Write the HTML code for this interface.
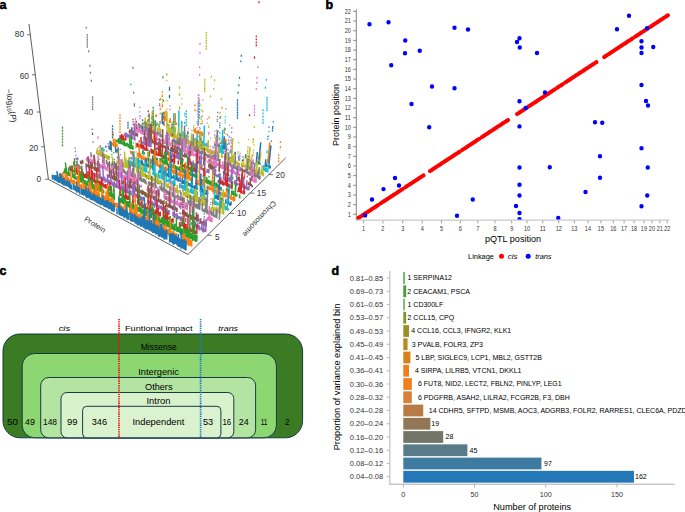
<!DOCTYPE html>
<html><head><meta charset="utf-8"><style>
html,body{margin:0;padding:0;background:#fff;width:685px;height:512px;overflow:hidden}
svg{display:block;font-family:"Liberation Sans",sans-serif}
</style></head><body>
<svg width="685" height="512" viewBox="0 0 685 512">
<text x="-0.60" y="8.80" font-size="12.5" fill="#000" font-weight="bold" stroke="#000" stroke-width="0.55">a</text>
<text x="325.60" y="8.80" font-size="12.5" fill="#000" font-weight="bold" stroke="#000" stroke-width="0.55">b</text>
<text x="-0.60" y="274.80" font-size="12.5" fill="#000" font-weight="bold" stroke="#000" stroke-width="0.55">c</text>
<text x="331.40" y="274.80" font-size="12.5" fill="#000" font-weight="bold" stroke="#000" stroke-width="0.55">d</text>
<path d="M155.9 116.6L155.8 114.6M156.2 117.1L156.1 114.4M162.5 119.8L162.5 116.3M163.2 119.5L163.2 117.2M163.9 120.2L163.9 116.4M164.2 120.3L164.2 111.4M164.8 120.6L164.8 116.6M165.2 120.9L165.2 118.7M166.1 120.9L166.0 110.4M166.6 120.8L166.6 118.9M169.5 123.1L169.5 120.1M170.2 123.1L170.2 117.9M175.2 125.0L175.3 113.3M175.1 125.3L175.1 123.1M176.5 125.0L176.5 122.4M194.3 132.4L194.4 128.2M195.2 132.8L195.2 129.8M195.2 133.1L195.4 128.3M195.4 133.5L195.5 130.7M196.6 133.3L196.7 131.1M196.6 133.2L196.7 131.1M197.8 133.7L197.9 130.6M197.2 134.4L197.3 130.5M197.9 134.2L198.0 131.7M198.9 134.2L199.0 132.0M199.7 134.7L199.7 132.0M199.9 134.5L200.0 130.9M200.2 135.1L200.3 131.8M200.8 135.0L200.9 131.5M201.4 135.6L201.5 131.6M201.2 135.6L201.3 132.8M201.8 136.1L201.9 132.7M202.4 136.2L202.5 132.2M216.1 141.5L216.2 137.8M216.6 141.8L216.8 138.5M220.6 144.0L220.7 142.2M221.1 144.1L221.3 140.7M222.2 143.6L222.4 139.7M222.5 144.0L222.6 141.7M222.7 144.7L223.0 138.8M223.6 144.7L223.8 140.8M224.4 145.1L224.5 142.8M224.8 145.2L225.2 138.5M225.5 145.5L225.7 142.5M225.7 145.9L226.1 139.6M252.3 156.8L252.5 154.3M258.4 159.3L258.7 156.8M259.0 159.0L259.5 152.9M259.8 159.0L260.0 157.0M267.4 162.6L267.7 159.3M267.8 162.7L269.8 142.3M268.1 163.0L269.0 154.0" stroke="#ff7f0e" stroke-width="1.5" fill="none"/>
<path d="M162.4 106.5h.01M162.3 92.0h.01M162.4 99.7h.01M162.4 102.6h.01M162.3 95.0h.01M162.5 113.4h.01M162.3 96.7h.01M162.4 105.0h.01M198.0 124.0h.01M198.5 108.9h.01M198.6 104.5h.01M198.3 114.8h.01M202.5 115.8h.01M202.6 111.5h.01M202.3 121.1h.01M203.0 100.2h.01M202.2 123.3h.01M224.5 128.3h.01M224.2 132.7h.01M224.3 130.8h.01M224.4 129.4h.01M224.3 131.0h.01M225.0 133.7h.01M224.7 139.1h.01M225.3 128.8h.01" stroke="#ff7f0e" stroke-width="1.3" stroke-linecap="square" fill="none"/>
<path d="M152.2 119.7L152.1 115.6M152.6 119.7L152.5 116.4M152.7 120.4L152.7 118.0M162.3 123.8L162.2 112.8M162.8 124.3L162.8 120.8M163.6 125.3L163.6 121.6M167.6 126.2L167.6 123.6M187.8 134.5L187.9 131.3M214.9 146.2L215.0 143.4M216.6 146.4L216.8 140.3M216.6 146.3L216.7 144.4M217.2 146.8L217.3 144.6M218.6 146.5L218.7 143.7M218.7 147.5L218.8 145.4M219.1 147.6L219.3 144.0M219.2 148.2L219.4 144.5M222.3 148.8L222.5 145.0M222.5 149.5L222.7 146.3M223.1 149.3L223.3 145.4M223.5 149.6L224.2 136.3M224.9 149.9L225.3 142.1M225.4 149.7L225.6 146.3M226.4 150.0L226.6 146.8M230.3 152.5L230.4 150.4M231.4 152.1L231.6 150.2M231.5 152.8L231.7 150.6M235.0 154.3L235.2 151.7M235.2 154.9L235.3 152.2M245.5 158.3L245.8 154.2M256.3 163.1L257.3 152.0M256.3 163.4L256.6 160.5M257.2 163.7L257.5 160.8M258.4 163.6L258.6 161.2M258.8 164.0L260.7 142.2M259.2 164.8L259.4 161.9M259.8 164.6L260.0 162.7M265.4 166.2L265.8 161.7M265.1 166.9L265.8 159.3M265.9 167.3L266.2 164.1M266.4 167.4L266.8 163.3M268.0 167.1L268.3 165.0M268.7 167.3L270.9 145.4M268.9 168.0L269.2 165.0M269.0 168.6L269.4 164.9M270.1 168.4L270.3 165.8" stroke="#1f77b4" stroke-width="1.5" fill="none"/>
<path d="M217.2 133.7h.01M217.2 131.8h.01M217.2 132.9h.01M217.0 137.7h.01M217.1 135.6h.01M217.2 131.9h.01M217.1 135.0h.01M217.0 136.4h.01M219.8 125.5h.01M219.9 123.2h.01M220.1 118.2h.01M267.8 139.1h.01M268.9 127.2h.01M268.0 136.5h.01M272.5 130.3h.01M273.3 121.9h.01M272.8 126.7h.01M272.7 127.8h.01M272.6 128.6h.01M272.4 130.9h.01M271.4 141.2h.01" stroke="#1f77b4" stroke-width="1.3" stroke-linecap="square" fill="none"/>
<path d="M147.9 122.4L147.9 119.8M151.8 124.6L151.7 121.0M152.2 124.8L152.1 120.9M153.5 124.2L153.4 117.7M154.1 124.9L154.1 120.8M153.8 125.2L153.8 122.4M155.0 125.2L155.0 123.1M154.9 125.6L154.8 121.9M155.7 125.5L155.6 121.4M156.3 125.5L156.2 123.6M156.4 126.4L156.4 123.3M159.3 126.9L159.3 123.3M170.9 131.7L171.0 129.0M171.1 132.5L171.1 130.6M172.1 132.4L172.1 130.5M172.9 132.4L172.9 129.2M173.8 133.9L173.8 113.3M174.3 133.7L174.3 131.2M175.2 133.0L175.2 127.2M178.3 135.4L178.3 132.6M178.7 135.6L178.9 110.5M179.4 136.1L179.4 132.4M180.3 136.3L180.4 133.3M180.6 136.4L180.7 133.5M181.7 136.0L181.8 131.7M181.5 136.7L181.7 120.7M182.9 136.6L183.0 133.4M183.6 137.1L183.7 133.7M183.2 137.9L183.2 135.8M184.6 137.3L184.7 132.7M184.5 138.1L184.5 135.1M185.0 138.3L185.1 135.0M186.0 137.9L186.0 134.7M186.7 138.0L186.8 135.2M187.1 138.4L187.2 135.0M187.5 138.5L187.6 135.2M187.3 139.5L187.4 137.1M193.8 140.8L193.8 138.7M193.6 141.5L193.7 139.2M194.0 141.8L194.1 138.6M195.0 141.9L195.1 137.7M196.9 142.8L197.2 134.5M197.6 143.0L197.6 140.6M198.6 143.2L198.7 140.9M198.6 143.5L198.7 140.7M199.6 143.8L199.9 134.1M199.5 144.6L199.6 141.3M200.0 144.7L200.1 140.8M200.4 145.2L200.4 142.7M201.2 144.7L201.3 141.5M202.4 145.0L202.5 140.8M202.4 145.1L202.6 141.7M203.1 145.2L203.2 141.0M203.8 144.9L203.9 141.1M203.7 146.2L204.4 125.5M204.8 146.1L204.9 143.4M205.5 146.4L205.6 143.9M206.3 146.0L206.5 142.7M206.5 146.8L206.6 142.5M207.1 146.5L207.3 143.2M207.9 146.6L208.0 143.6M219.0 151.6L219.2 147.9M218.8 152.6L218.9 150.3M219.2 152.5L219.4 146.8M220.4 152.2L220.5 149.2M220.1 153.1L220.5 145.5M221.6 152.7L222.8 129.6M222.5 152.8L222.6 149.7M222.1 154.1L222.3 150.6M223.4 153.8L223.6 150.6M223.4 154.0L223.5 151.9M225.8 154.8L226.3 145.4M226.5 155.2L226.7 151.4M228.3 156.4L228.5 152.4M238.6 159.7L238.8 155.6M238.5 160.7L238.8 157.2M239.5 160.7L239.7 157.2M242.4 161.6L242.6 159.5M250.6 165.3L250.8 162.7M251.5 165.5L251.8 161.3M252.3 165.2L252.7 161.0M263.4 169.8L263.8 165.3M263.6 170.6L263.9 168.0M264.0 171.0L264.4 166.7M265.2 170.5L265.4 168.4M265.5 171.2L265.8 168.1M265.8 172.2L266.3 167.8M267.2 171.9L267.4 169.7M267.7 172.5L268.4 164.7" stroke="#17becf" stroke-width="1.5" fill="none"/>
<path d="M184.8 115.6h.01M184.7 122.4h.01M184.6 129.3h.01M184.8 113.5h.01M184.6 131.5h.01M184.7 123.4h.01M219.7 137.9h.01M219.6 139.5h.01M220.0 133.0h.01M220.5 117.8h.01M219.2 144.7h.01M220.6 116.6h.01M219.3 143.2h.01M220.0 127.7h.01M224.0 142.5h.01M225.2 120.2h.01M224.8 128.5h.01M225.4 116.8h.01M225.1 122.6h.01M223.9 144.6h.01M224.7 130.5h.01M225.8 108.8h.01M229.4 137.1h.01M229.1 142.5h.01M229.0 144.2h.01M269.0 131.6h.01M268.5 136.4h.01M267.1 150.8h.01M267.0 152.5h.01" stroke="#17becf" stroke-width="1.3" stroke-linecap="square" fill="none"/>
<path d="M142.8 125.4L142.7 123.2M144.0 124.9L143.9 122.7M143.8 125.4L143.7 122.3M144.7 125.0L144.6 120.9M144.8 125.8L144.7 122.1M145.2 125.6L145.1 121.6M145.5 126.3L145.3 117.6M145.7 126.6L145.7 123.8M146.4 126.2L146.4 124.4M147.3 126.1L147.2 123.1M147.4 127.1L147.3 123.0M147.6 126.8L147.5 121.1M147.8 127.3L147.8 124.9M148.1 127.3L148.0 123.9M148.9 127.8L148.8 125.1M149.5 127.9L149.2 113.7M150.9 127.7L150.9 124.4M151.3 128.4L151.2 124.7M151.2 128.4L151.2 125.8M152.4 128.7L152.4 125.3M152.5 129.1L152.3 118.1M153.0 129.0L152.9 125.8M153.4 129.6L153.4 127.5M154.2 129.5L154.2 127.6M154.7 130.1L154.7 127.1M155.1 129.6L155.0 122.1M157.6 131.5L157.6 127.5M158.8 131.0L158.8 124.4M158.6 131.4L158.6 128.8M159.7 131.5L159.7 127.6M159.7 132.1L159.7 129.6M160.1 132.0L160.1 129.6M160.9 131.8L160.9 129.1M160.9 133.0L160.9 129.8M167.2 135.2L167.2 132.0M167.0 135.4L166.9 111.6M168.5 135.4L168.5 130.1M168.7 135.5L168.7 123.9M168.8 135.9L168.8 133.2M168.8 136.0L168.8 126.3M169.3 136.5L169.3 134.0M169.5 136.5L169.5 134.6M170.4 136.2L170.4 128.0M171.2 136.1L171.2 126.9M171.4 137.1L171.4 127.8M171.6 137.3L171.6 133.0M172.4 137.6L172.4 121.2M173.1 136.9L173.1 134.8M173.5 137.2L173.5 134.5M173.5 138.2L173.5 134.4M174.8 137.9L174.8 126.6M174.9 138.3L175.0 131.0M175.6 138.7L175.6 136.1M176.1 138.8L176.1 134.6M176.8 139.0L176.8 136.9M177.7 139.2L177.8 133.0M178.3 139.3L178.4 126.7M178.1 140.5L178.1 137.3M181.3 140.2L181.3 137.4M181.3 141.0L181.4 137.3M181.8 141.9L181.8 138.3M182.4 141.8L182.5 138.4M183.3 141.9L183.5 131.3M183.9 142.5L184.0 135.0M184.7 142.3L184.8 133.0M184.5 142.6L184.6 138.9M185.8 142.2L185.9 138.4M185.9 143.2L185.9 140.9M187.2 143.1L187.3 139.3M187.2 143.7L187.2 141.3M187.6 144.1L187.7 138.2M188.1 144.7L188.1 142.3M188.9 144.4L189.0 140.9M189.9 144.5L190.0 141.4M190.0 144.9L190.1 140.6M191.2 144.7L191.4 134.6M191.5 145.1L191.5 143.2M191.5 146.2L191.7 137.4M193.0 145.4L193.1 142.0M193.2 146.0L193.2 143.5M193.3 146.8L193.4 141.4M194.7 146.2L194.9 138.5M195.2 146.6L195.3 144.6M195.4 147.0L195.4 145.1M195.7 147.5L195.9 140.3M196.8 147.6L196.9 143.3M196.8 148.2L196.9 145.0M197.1 147.9L197.2 144.1M198.1 148.0L198.2 145.1M199.0 148.1L199.1 144.3M198.7 149.0L199.0 139.7M200.0 148.1L200.2 138.6M199.7 149.2L199.8 145.5M200.3 149.5L200.4 147.3M201.0 149.7L201.4 136.5M202.2 149.6L202.3 145.4M202.0 150.1L202.2 146.8M202.4 150.1L202.6 144.0M203.2 149.9L203.4 146.7M203.7 149.9L203.8 145.5M204.5 151.4L204.6 147.2M205.2 151.1L205.4 147.1M205.8 151.0L205.9 149.0M206.7 151.3L206.8 148.3M207.0 151.7L207.2 147.3M207.8 151.8L208.3 139.9M207.8 152.7L207.8 150.8M208.0 153.1L208.1 149.9M208.5 153.3L208.6 150.4M209.3 152.8L209.5 149.6M210.7 152.9L210.8 149.2M210.5 153.8L210.6 151.2M211.0 154.1L211.1 150.5M211.5 154.7L211.7 151.1M212.5 154.8L212.6 150.7M213.3 154.5L213.4 150.9M213.9 154.9L214.0 152.4M214.8 154.6L215.0 150.2M214.5 155.9L214.6 153.6M215.6 155.8L215.9 148.6M215.9 156.3L216.0 153.9M217.2 155.4L217.4 151.5M217.5 156.0L217.6 153.2M218.0 156.4L218.2 152.3M218.3 156.7L218.4 154.7M218.5 157.0L219.0 146.5M221.6 157.9L221.8 153.8M222.4 158.0L222.5 155.4M225.5 160.1L225.7 156.8M226.4 159.4L226.6 155.3M226.5 160.1L226.7 157.6M227.4 160.8L227.5 158.5M227.4 161.2L227.5 158.5M228.9 160.7L229.1 156.6M228.9 161.4L229.2 156.9M230.1 161.3L230.4 156.6M229.9 161.8L230.2 157.3M230.7 162.1L231.0 158.5M231.4 161.6L232.8 138.3M231.3 163.1L231.4 160.6M232.8 162.6L233.3 155.3M233.2 163.0L233.4 160.5M233.4 163.9L234.1 153.6M234.7 163.4L234.9 160.8M235.1 163.7L235.4 160.0M235.5 164.2L235.7 160.5M236.5 164.4L236.7 161.5M237.4 164.4L237.5 162.4M237.2 165.4L237.4 161.5M238.3 165.1L238.5 162.2M238.4 166.2L238.6 163.6M239.0 166.2L239.3 162.9M241.4 166.3L241.6 162.2M242.5 166.8L242.7 163.9M243.2 166.9L243.8 158.2M243.9 167.4L244.1 164.3M244.7 167.7L244.9 164.9M246.0 167.5L246.9 156.0M246.3 168.6L246.8 162.1M246.7 169.1L247.0 164.9M247.7 168.9L247.9 166.1M248.3 168.8L250.0 147.0M248.5 169.4L249.3 159.1M249.1 170.1L249.5 165.0M250.3 169.7L250.6 166.0M250.8 169.8L251.1 166.9M251.5 169.9L251.8 165.5M251.8 171.0L252.1 167.5M251.8 171.7L252.0 168.7M252.7 171.8L253.0 168.4M253.3 171.4L253.6 168.5M254.0 172.2L254.8 162.9M254.3 172.4L254.7 168.4M255.3 172.6L255.6 169.4M255.6 173.0L255.9 169.1M256.3 172.7L257.3 161.0M256.7 173.6L257.0 170.1M258.0 173.3L258.3 169.6M258.0 173.4L258.2 170.8M259.1 173.2L259.3 171.1M258.9 174.5L259.6 167.3M259.6 174.3L259.8 172.1M261.0 174.4L261.5 169.6M261.4 174.8L262.3 165.3M261.8 175.0L262.1 172.3M262.3 175.3L262.7 170.2M262.8 176.0L263.2 171.7M263.1 176.4L263.4 173.2" stroke="#bcbd22" stroke-width="1.5" fill="none"/>
<path d="M152.1 112.5h.01M152.2 114.1h.01M152.2 118.1h.01M152.2 118.6h.01M152.3 122.7h.01M152.2 116.5h.01M152.1 112.3h.01M152.1 112.2h.01M153.2 118.0h.01M153.1 113.3h.01M153.3 123.0h.01M153.1 112.1h.01M153.1 111.8h.01M153.2 115.1h.01M157.5 123.2h.01M157.5 124.3h.01M157.6 124.8h.01M157.6 124.6h.01M157.5 122.8h.01M157.5 124.0h.01M157.6 124.9h.01M157.6 124.8h.01M160.7 109.6h.01M160.8 121.1h.01M160.7 107.9h.01M160.8 112.8h.01M160.6 98.4h.01M160.6 99.7h.01M166.8 75.1h.01M166.9 109.2h.01M166.8 73.8h.01M166.8 80.4h.01M166.9 100.5h.01M181.8 104.2h.01M181.4 133.8h.01M181.8 98.6h.01M181.4 132.9h.01M181.5 129.1h.01M187.3 134.9h.01M187.3 136.9h.01M187.3 136.8h.01M191.5 140.7h.01M191.6 136.0h.01M191.8 130.4h.01M191.7 133.7h.01M191.6 139.0h.01M193.7 130.3h.01M193.7 127.7h.01M193.6 135.3h.01M193.5 138.1h.01M193.8 125.7h.01M201.0 105.1h.01M200.4 124.0h.01M200.3 128.6h.01M200.1 134.8h.01M200.2 132.1h.01M200.1 133.5h.01M201.2 119.6h.01M200.7 136.3h.01M201.3 117.6h.01M201.5 110.0h.01M201.3 116.9h.01M200.8 134.8h.01M201.1 123.4h.01M201.2 119.5h.01M208.1 143.9h.01M208.5 134.6h.01M208.0 146.0h.01M208.0 147.0h.01M209.1 117.0h.01M209.1 118.0h.01M208.7 127.4h.01M208.8 125.6h.01M215.3 137.3h.01M214.9 147.4h.01M215.3 138.3h.01M226.8 154.2h.01M226.9 154.1h.01M226.8 154.3h.01M226.9 152.7h.01M226.9 153.0h.01M238.1 151.9h.01M238.7 142.7h.01M238.0 153.5h.01M248.6 139.6h.01M247.6 151.7h.01M247.0 159.4h.01M247.5 153.5h.01M247.3 156.0h.01M247.8 149.9h.01M248.0 147.2h.01M247.9 147.4h.01M251.1 160.2h.01M251.2 158.1h.01M251.1 159.5h.01M250.8 163.3h.01M250.8 163.5h.01M251.3 157.6h.01M251.0 161.1h.01M251.2 158.2h.01M254.3 127.5h.01M251.5 161.4h.01M253.4 139.0h.01M254.4 127.0h.01M253.3 140.5h.01M253.3 139.9h.01M253.1 142.5h.01M253.3 152.9h.01M253.5 150.5h.01M254.0 144.8h.01M257.8 161.0h.01M257.4 165.6h.01M257.5 164.2h.01M260.6 156.6h.01M260.6 155.8h.01M261.0 152.2h.01M259.9 164.2h.01M260.3 160.0h.01M260.5 157.9h.01M260.7 155.6h.01M260.8 154.1h.01" stroke="#bcbd22" stroke-width="1.3" stroke-linecap="square" fill="none"/>
<path d="M138.7 128.1L138.5 124.2M138.8 128.1L138.6 123.0M139.4 128.5L139.2 123.7M139.8 128.8L139.7 125.3M141.0 128.3L140.9 124.4M141.7 128.3L141.6 126.5M141.7 129.1L141.6 125.3M142.9 128.7L142.8 125.8M142.6 129.6L142.5 125.9M143.4 129.8L143.4 128.0M144.1 129.8L144.0 127.4M144.8 130.0L144.7 126.0M144.7 130.9L144.6 127.5M145.1 130.9L145.0 127.3M146.1 130.6L145.9 123.6M146.2 131.4L145.9 121.7M147.7 131.2L147.6 127.1M148.2 131.6L148.2 129.5M148.8 131.8L148.7 128.6M148.8 131.8L148.7 128.6M149.7 132.2L149.5 124.5M149.8 133.0L149.7 130.1M150.2 132.6L150.2 128.8M151.0 132.9L151.0 129.2M151.2 133.3L151.0 123.4M152.0 134.0L151.9 129.9M153.1 133.6L153.0 129.7M153.8 133.9L153.8 130.8M154.0 134.1L153.9 130.0M154.7 134.3L154.7 132.4M154.8 135.3L154.8 132.2M155.5 135.0L155.3 120.3M156.5 135.0L156.5 132.9M156.9 135.3L156.8 131.2M157.7 135.3L157.7 132.4M158.2 135.4L158.2 131.9M160.0 136.4L159.9 132.0M160.7 136.9L160.7 133.9M160.5 137.2L160.5 133.5M161.7 137.6L161.7 134.5M166.4 139.5L166.4 137.1M167.2 139.2L167.2 136.8M167.5 139.3L167.5 135.3M167.7 139.7L167.7 133.2M168.6 140.3L168.6 137.9M168.6 140.5L168.6 138.6M172.5 142.9L172.5 139.2M174.0 141.9L174.0 138.5M174.0 142.5L174.0 138.4M174.9 143.0L174.9 140.0M175.1 144.1L175.1 140.7M175.6 143.6L175.6 139.9M176.1 143.9L176.1 140.3M177.3 143.7L177.3 139.8M177.3 144.2L177.4 139.9M178.2 143.8L178.2 140.2M178.1 145.3L178.2 141.5M179.7 144.7L179.7 136.9M179.7 145.0L179.7 141.1M180.2 145.4L180.3 133.7M180.1 145.8L180.2 139.2M181.4 145.7L181.4 141.3M181.9 146.2L181.9 143.7M181.8 147.0L181.8 144.8M182.4 146.8L182.4 144.2M183.7 146.6L183.7 144.3M184.3 146.9L184.6 125.6M185.9 148.0L186.0 144.5M185.9 148.4L186.0 138.4M188.2 149.0L188.3 145.2M189.2 148.8L189.2 145.9M189.1 149.4L189.1 147.0M189.5 149.6L189.6 145.9M190.7 149.0L190.7 145.2M190.5 150.1L190.6 146.4M191.2 150.7L191.4 141.2M192.1 150.6L192.2 146.6M192.9 150.1L193.3 133.9M193.3 150.9L193.4 148.3M194.6 151.0L194.7 146.6M195.1 151.2L195.2 146.8M195.3 151.9L195.4 148.0M196.5 152.2L196.6 149.5M196.6 152.6L196.9 138.8M197.7 152.1L197.9 146.2M198.1 153.3L198.2 148.9M199.1 153.0L199.2 149.4M198.8 153.8L198.9 150.4M199.4 154.3L199.6 150.0M200.3 154.0L200.4 151.3M201.5 154.1L201.6 151.6M201.6 154.5L201.7 150.4M202.4 154.3L202.5 150.2M205.4 156.5L205.6 152.2M206.2 156.4L206.3 153.9M207.7 157.7L207.9 154.0M208.8 157.5L209.0 154.4M208.9 158.1L209.0 155.9M210.0 157.6L210.1 155.0M210.3 158.0L210.5 154.5M210.9 158.6L211.0 155.3M211.6 159.6L211.8 155.9M212.9 158.9L213.1 155.1M213.9 158.9L214.1 154.8M214.1 159.5L214.2 157.1M214.1 160.1L214.4 154.5M215.4 160.0L215.6 156.5M215.5 160.7L216.4 140.1M216.4 160.4L216.5 157.4M216.9 160.9L217.1 158.1M217.5 160.7L217.6 158.7M218.2 161.3L218.5 155.5M224.3 164.5L224.4 161.9M225.0 164.1L225.3 157.4M225.2 164.9L225.4 161.1M225.8 165.0L226.0 162.8M226.9 165.2L227.1 161.6M227.3 165.0L227.5 161.3M228.0 165.7L228.7 153.1M227.9 165.8L228.1 162.1M228.7 165.8L228.8 163.7M229.5 165.7L229.8 161.5M230.2 165.8L230.4 162.7M230.9 166.8L231.1 163.6M231.1 167.2L231.2 164.9M232.1 166.9L232.2 164.6M232.4 167.4L232.6 165.3M232.9 167.7L233.0 165.0M233.1 168.5L233.4 164.1M233.9 168.4L234.1 166.2M234.7 168.7L235.5 155.4M235.2 169.0L235.3 166.6M236.2 169.5L236.4 167.5M236.8 170.3L237.1 166.9M237.7 169.5L237.9 165.8M238.8 169.6L239.0 167.1M238.7 170.4L239.0 166.1M239.7 171.2L239.8 169.2M239.9 171.4L240.1 168.5M240.5 171.2L240.8 167.1M241.7 171.3L242.0 167.9M242.4 171.2L242.6 168.7M242.6 172.6L242.8 169.2M242.9 172.4L243.2 169.1M243.7 172.7L243.9 170.2M245.0 172.5L245.3 168.8M246.1 172.6L246.4 168.3M246.3 173.4L246.6 170.0M246.8 173.3L248.0 158.4M247.2 174.0L247.8 166.6M247.6 173.8L247.9 171.1M247.8 174.4L247.9 172.4M249.2 174.5L249.4 172.5M249.0 175.6L249.4 171.5M250.5 175.4L251.6 161.9M251.2 175.5L251.4 173.4M251.8 175.3L252.1 172.3M252.6 175.5L252.8 173.5M252.3 176.6L252.5 173.8M253.8 176.6L254.9 163.1M253.9 176.4L254.2 173.3M254.6 177.2L254.9 172.8M255.3 177.6L255.7 173.3M256.3 177.4L256.6 174.0M256.8 177.5L257.1 174.4M257.4 178.2L258.0 171.4M258.3 178.5L259.3 167.1M258.7 179.1L259.1 175.4M259.4 179.7L259.8 175.1M259.8 179.8L260.2 175.6" stroke="#7f7f7f" stroke-width="1.5" fill="none"/>
<path d="M144.9 122.3h.01M144.9 122.3h.01M145.0 123.4h.01M145.0 124.1h.01M149.5 121.4h.01M149.4 115.2h.01M149.5 118.7h.01M149.6 124.5h.01M149.4 114.3h.01M149.4 115.9h.01M149.4 115.2h.01M159.6 99.8h.01M159.8 121.6h.01M159.6 103.9h.01M159.7 105.5h.01M198.5 122.6h.01M198.5 122.5h.01M198.3 131.2h.01M198.3 132.0h.01M198.1 136.3h.01M198.7 117.2h.01M198.5 121.5h.01M201.6 149.0h.01M201.7 148.2h.01M201.9 141.8h.01M201.8 145.2h.01M201.6 148.9h.01M201.7 147.8h.01M217.4 119.5h.01M217.5 116.7h.01M216.9 130.3h.01M216.6 136.3h.01M217.3 121.4h.01M216.6 136.4h.01M217.7 112.5h.01M217.3 140.0h.01M217.2 141.6h.01M217.7 131.4h.01M217.4 152.2h.01M218.3 131.4h.01M218.1 136.1h.01M217.9 140.8h.01M218.0 138.7h.01M218.3 144.3h.01M217.7 155.2h.01M218.2 144.6h.01M218.2 144.9h.01M217.7 156.2h.01M217.8 154.2h.01M224.6 157.4h.01M224.6 158.9h.01M224.8 155.6h.01M224.6 157.6h.01M224.8 155.3h.01M224.6 157.6h.01M231.1 140.1h.01M231.0 140.8h.01M231.8 128.0h.01M231.2 137.9h.01M230.3 152.6h.01M230.0 157.6h.01M231.5 132.4h.01M249.6 169.5h.01M249.8 167.7h.01M250.3 160.9h.01" stroke="#7f7f7f" stroke-width="1.3" stroke-linecap="square" fill="none"/>
<path d="M134.9 130.6L134.8 127.7M135.3 131.2L135.1 124.4M135.9 131.4L135.7 127.1M137.0 131.8L136.9 128.1M137.3 131.6L137.2 128.0M137.6 131.7L137.5 129.6M138.3 131.9L138.1 125.3M138.2 132.8L138.1 129.6M139.5 132.0L139.4 128.8M140.0 132.6L139.9 130.3M140.4 132.5L140.3 129.3M141.3 133.1L141.2 130.2M141.0 134.0L140.9 131.7M141.7 134.1L141.6 129.1M142.1 134.4L142.0 130.8M143.1 134.0L143.0 129.9M143.0 134.1L142.9 132.0M143.2 135.0L143.2 132.4M144.4 134.3L144.2 128.5M145.4 134.9L145.4 131.8M145.9 135.1L145.8 130.9M146.5 135.7L146.4 133.0M147.0 135.8L147.0 132.8M147.8 135.8L147.6 128.6M148.1 136.2L148.0 132.4M148.0 136.4L147.9 134.3M148.9 136.3L148.8 132.5M149.1 137.6L149.0 133.7M151.4 137.5L151.3 135.7M151.2 138.1L151.1 133.1M153.6 138.9L153.6 135.9M154.3 138.3L154.3 134.0M154.7 138.6L154.7 135.9M154.5 139.6L154.5 136.7M155.8 139.3L155.7 130.7M155.4 139.8L155.4 136.8M156.9 139.6L156.9 136.4M157.0 139.8L156.9 134.2M157.2 141.0L157.1 138.5M159.1 141.9L159.0 137.9M160.3 141.5L160.3 139.1M160.4 142.1L160.3 139.5M161.1 142.5L161.1 138.8M162.4 141.8L162.4 139.5M162.8 142.0L162.8 139.2M162.9 142.9L162.9 141.0M163.5 142.5L163.5 139.0M163.9 143.5L163.8 139.2M164.4 143.9L164.3 141.5M164.6 143.9L164.6 141.6M165.7 144.4L165.7 134.7M166.0 144.2L165.9 140.4M167.0 144.1L166.9 141.4M167.2 144.1L167.2 139.7M167.1 144.9L167.1 141.5M167.8 144.6L167.8 141.0M168.1 145.2L168.1 142.1M169.2 144.6L169.2 142.4M169.3 145.2L169.3 135.0M169.9 145.4L169.9 142.3M170.0 146.6L170.0 142.2M170.9 146.0L170.9 142.4M174.6 147.9L174.6 145.5M175.1 148.1L175.1 145.9M176.0 148.4L176.0 146.2M176.2 148.2L176.2 144.0M176.6 148.4L176.6 144.2M177.0 148.6L177.0 146.3M177.6 149.2L177.6 146.2M177.8 149.4L177.8 146.9M179.2 149.1L179.2 145.3M179.5 150.4L179.5 147.2M180.4 150.5L180.4 148.5M181.4 150.1L181.4 147.6M181.7 150.4L181.8 141.5M181.7 151.4L181.8 142.7M181.9 151.2L181.9 148.2M183.3 151.0L183.3 147.7M183.3 152.1L183.3 149.1M183.5 152.3L183.6 140.5M184.2 152.5L184.4 138.5M185.0 152.8L185.0 150.5M185.8 152.4L185.9 148.5M187.1 153.5L187.2 150.6M187.6 153.8L187.7 147.5M188.0 153.9L188.1 150.9M188.7 154.4L188.7 152.2M191.7 154.8L191.9 144.8M192.1 155.7L192.3 147.0M193.0 156.1L193.1 148.5M193.4 156.2L193.4 154.0M194.8 156.4L194.8 154.0M195.1 155.9L195.2 152.6M195.3 156.5L195.4 153.5M196.2 156.8L196.3 152.3M196.4 157.1L196.5 154.0M197.3 157.1L197.4 152.3M197.3 157.8L197.4 154.4M198.2 157.8L198.3 155.3M198.8 157.4L198.9 153.7M198.8 157.9L198.9 153.6M199.0 158.6L199.1 154.6M200.2 158.3L200.3 155.6M200.8 158.9L200.9 156.9M200.3 159.8L200.4 156.5M201.9 159.0L202.0 156.6M202.1 159.4L202.2 157.1M204.3 159.8L204.4 156.3M204.9 160.7L205.0 157.4M204.7 160.9L204.8 156.9M205.6 161.2L205.7 158.2M205.7 161.1L205.8 157.0M207.8 162.8L207.9 160.7M208.6 162.8L208.8 159.0M209.9 162.6L210.0 158.6M209.5 163.6L209.7 160.0M210.0 163.6L210.3 157.7M210.5 163.6L210.6 160.3M211.1 163.6L211.2 159.3M211.3 164.1L211.6 157.3M212.3 164.3L212.5 161.1M213.4 164.2L213.5 161.2M213.4 164.2L213.5 161.9M213.4 165.2L213.8 157.0M214.6 164.8L214.8 160.7M215.8 164.9L215.9 162.2M216.1 165.7L217.3 140.3M217.0 165.3L217.1 162.7M216.9 166.4L217.0 162.8M218.4 165.9L218.6 162.2M218.9 166.4L219.1 161.3M219.3 166.8L219.5 163.3M219.3 167.7L219.5 163.9M220.6 167.0L220.8 164.5M220.6 167.9L220.8 164.6M221.4 168.2L221.6 165.0M222.4 167.9L222.5 164.4M222.6 168.0L222.8 164.3M222.2 169.3L222.7 161.4M223.4 169.3L223.6 164.8M224.6 168.5L224.9 164.4M224.3 169.7L224.6 164.6M224.8 169.7L225.9 148.6M225.5 170.2L225.6 167.5M226.2 169.8L226.5 165.3M226.3 170.4L226.5 167.3M227.0 171.2L227.3 166.8M228.4 170.9L228.6 168.3M228.9 171.6L229.1 169.2M229.6 171.7L229.7 169.5M230.6 171.9L230.7 169.6M231.0 172.5L231.2 169.4M231.9 172.6L232.4 164.2M232.8 172.3L233.0 167.8M233.1 172.9L233.3 169.1M233.9 172.8L234.1 170.1M233.7 173.9L233.8 171.6M234.7 174.3L234.9 171.1M236.1 173.9L236.3 172.0M235.9 175.2L236.1 172.0M236.7 174.6L236.9 171.7M237.5 175.3L237.6 173.2M238.2 175.2L239.0 163.8M238.6 175.7L238.8 172.7M250.1 180.4L250.4 177.6M251.1 180.5L251.3 178.5M251.3 181.3L253.2 159.2M252.1 181.2L252.4 177.5M252.3 181.5L253.6 167.2M253.2 181.8L253.4 179.9M254.1 182.6L254.6 176.6M254.8 182.6L255.2 178.1M255.8 182.4L256.1 179.3M256.0 182.6L256.3 178.6" stroke="#e377c2" stroke-width="1.5" fill="none"/>
<path d="M139.8 111.9h.01M139.7 107.3h.01M140.0 116.3h.01M140.0 115.6h.01M140.3 126.9h.01M140.3 126.8h.01M140.0 118.4h.01M140.0 118.7h.01M148.8 128.5h.01M148.7 124.4h.01M148.4 110.4h.01M148.5 114.8h.01M148.5 114.2h.01M148.6 121.5h.01M148.4 111.2h.01M148.5 117.0h.01M160.2 123.5h.01M160.3 133.0h.01M160.0 109.1h.01M160.3 133.3h.01M160.1 113.9h.01M160.2 122.7h.01M160.2 123.5h.01M160.2 130.8h.01M169.9 109.5h.01M169.9 125.7h.01M169.9 105.9h.01M169.9 131.9h.01M169.9 134.6h.01M177.0 139.6h.01M177.0 139.9h.01M177.0 139.4h.01M181.9 132.4h.01M181.9 137.6h.01M181.9 132.5h.01M182.0 123.3h.01M182.0 126.4h.01M188.5 128.9h.01M188.2 142.8h.01M188.2 141.3h.01M188.1 148.0h.01M188.3 140.0h.01M188.2 146.4h.01M188.3 136.7h.01M188.8 149.4h.01M188.9 141.3h.01M188.9 141.3h.01M188.9 144.6h.01M188.8 147.8h.01M188.9 144.8h.01M188.8 147.1h.01M196.4 148.7h.01M197.1 121.7h.01M197.0 127.7h.01M197.4 110.8h.01M197.1 123.8h.01M196.8 134.1h.01M199.7 127.7h.01M199.6 129.8h.01M199.0 150.5h.01M207.2 119.1h.01M207.0 123.1h.01M206.3 143.8h.01M208.9 133.3h.01M208.2 150.7h.01M208.9 132.4h.01M210.2 146.5h.01M210.1 149.4h.01M209.9 155.0h.01M209.9 153.5h.01M209.8 156.5h.01M209.9 155.0h.01M210.6 138.1h.01M213.1 147.9h.01M213.1 146.7h.01M212.9 151.5h.01M212.9 152.0h.01M213.1 147.0h.01M212.9 150.3h.01M214.2 148.1h.01M214.7 135.9h.01M214.0 152.6h.01M214.4 142.3h.01M214.9 131.2h.01M214.7 135.0h.01M225.1 159.6h.01M225.2 158.0h.01M225.2 157.9h.01M225.1 159.5h.01M225.0 161.0h.01M225.2 158.9h.01M225.2 158.0h.01M225.2 157.9h.01M229.0 136.2h.01M228.8 140.4h.01M228.8 139.9h.01M229.7 125.2h.01M228.8 139.6h.01M228.6 143.7h.01M227.5 163.2h.01M228.3 149.7h.01M229.0 161.0h.01M228.9 161.8h.01M229.0 160.7h.01M229.0 161.1h.01M230.4 158.4h.01M231.3 143.0h.01M229.9 166.8h.01M230.8 151.8h.01M231.0 147.8h.01M231.2 145.7h.01M230.9 149.7h.01M231.1 146.9h.01M239.6 155.2h.01M239.3 159.1h.01M239.4 157.9h.01M239.2 160.6h.01M239.6 155.9h.01M239.2 160.7h.01M239.0 169.4h.01M239.1 168.5h.01M240.2 153.4h.01M240.0 155.9h.01M251.0 170.3h.01M251.0 170.1h.01M250.8 173.0h.01M250.6 175.0h.01M250.9 171.7h.01M250.6 174.9h.01M250.8 172.1h.01M251.4 165.4h.01M252.9 171.2h.01M252.7 173.7h.01M252.9 171.2h.01M252.7 173.4h.01M252.9 171.8h.01" stroke="#e377c2" stroke-width="1.3" stroke-linecap="square" fill="none"/>
<path d="M130.0 132.6L129.9 129.3M129.5 133.5L129.3 130.7M130.7 133.3L130.6 129.9M131.5 133.1L131.4 130.0M131.7 134.0L131.6 130.3M132.0 134.4L131.7 127.2M133.5 134.4L133.4 130.6M133.3 134.9L133.2 131.8M134.1 134.6L134.0 131.5M134.1 135.8L134.0 134.0M135.0 135.7L134.9 132.6M135.0 135.9L134.9 133.3M135.9 136.1L135.8 133.0M136.9 135.6L136.8 132.6M137.1 136.0L136.9 132.8M137.5 136.7L137.4 133.7M144.7 140.0L144.5 130.6M145.8 139.9L145.7 136.8M145.6 140.5L145.4 136.4M146.4 140.7L146.3 136.8M147.4 140.4L147.3 137.2M147.2 141.4L147.2 138.4M148.4 140.9L148.4 138.5M148.5 141.0L148.5 136.8M148.9 141.6L148.6 128.3M148.8 142.2L148.8 139.9M149.9 142.0L149.9 140.0M149.7 142.9L149.7 139.5M150.5 142.6L150.2 128.1M151.3 142.8L151.0 124.0M151.8 143.4L151.8 139.7M152.8 143.0L152.7 138.8M153.2 143.2L153.2 141.4M154.1 144.0L154.0 140.4M154.2 144.4L154.2 142.2M154.8 144.1L154.8 141.6M156.0 144.2L155.9 138.1M156.0 144.4L155.9 140.1M156.3 145.3L156.2 142.3M157.4 145.6L157.4 142.8M158.4 145.2L158.3 141.9M159.0 145.7L159.0 142.0M159.6 145.7L159.5 138.3M160.1 146.6L160.1 144.1M160.7 146.7L160.7 143.6M161.2 146.9L161.1 143.3M161.6 147.3L161.6 144.7M162.8 147.4L162.7 129.3M162.4 148.4L162.4 145.2M163.4 147.6L163.4 145.7M163.8 148.1L163.8 145.3M165.1 148.0L165.1 145.5M167.1 148.6L167.0 139.7M168.3 149.9L168.3 145.6M170.2 151.0L170.2 148.7M170.9 151.1L171.0 146.7M171.8 151.1L171.8 146.8M171.4 151.7L171.4 147.6M172.4 151.3L172.4 147.1M172.4 151.8L172.4 148.4M172.7 152.1L172.8 143.4M173.6 152.0L173.6 147.9M174.6 152.1L174.7 149.6M175.1 152.6L175.1 148.7M174.9 153.0L175.0 144.2M176.2 153.0L176.2 149.3M176.8 153.5L176.8 149.2M176.9 154.1L177.0 146.7M177.4 154.1L177.5 150.0M177.9 155.1L177.9 151.9M178.8 154.6L178.9 152.7M181.8 155.1L181.9 152.7M183.1 157.1L183.1 154.6M183.9 157.0L183.9 154.5M184.7 157.1L184.8 152.7M184.9 157.6L184.9 155.4M186.1 157.4L186.2 155.5M186.7 157.3L186.8 153.6M186.4 157.8L186.4 154.1M189.0 159.2L189.2 150.4M197.0 162.1L197.1 159.2M196.8 163.2L196.9 160.3M197.2 163.0L197.4 157.8M198.1 163.5L198.2 161.2M199.3 163.6L199.5 156.7M199.9 163.7L200.0 161.5M200.7 164.1L200.8 161.4M203.7 165.0L204.3 147.7M204.3 165.1L204.7 152.5M204.2 165.7L204.3 163.3M208.8 167.4L208.9 164.1M209.1 167.6L209.3 163.3M209.2 168.0L209.3 165.7M210.4 167.7L210.6 163.6M210.0 168.9L210.1 165.7M210.5 169.2L210.6 165.5M211.9 168.7L212.1 164.6M211.8 169.8L211.9 167.5M212.7 169.6L212.9 165.1M214.2 169.5L214.3 167.0M214.5 169.8L214.7 166.2M214.5 170.1L214.7 165.5M219.0 171.2L219.2 167.9M219.2 172.1L219.9 159.0M223.6 173.8L223.7 171.1M224.2 174.7L225.4 152.9M224.7 174.5L225.2 166.2M225.1 175.2L225.3 172.4M226.5 174.8L226.6 172.8M227.1 175.2L227.2 172.8M227.0 175.9L227.1 173.3M228.2 176.3L228.4 172.5M237.8 180.8L238.0 177.3M238.7 180.6L239.0 176.3M238.9 181.2L239.2 177.3M239.5 180.7L239.7 177.8M239.3 181.6L239.6 178.2M241.5 182.0L242.2 173.2M242.0 183.1L242.3 178.5M248.2 184.7L248.4 182.2M248.4 185.3L248.7 182.1M249.5 185.6L249.7 183.4M249.9 186.0L250.6 177.9M250.7 185.7L250.8 183.4M251.2 186.1L251.4 183.9M252.0 187.1L252.2 184.9M252.1 187.5L252.3 185.0" stroke="#8c564b" stroke-width="1.5" fill="none"/>
<path d="M133.1 121.5h.01M133.0 119.4h.01M133.2 124.6h.01M133.2 124.2h.01M136.5 124.3h.01M136.4 122.0h.01M136.6 127.8h.01M136.4 121.3h.01M136.5 125.0h.01M136.6 128.1h.01M136.6 127.0h.01M148.2 111.6h.01M148.5 124.6h.01M148.3 116.2h.01M148.4 119.8h.01M171.8 124.6h.01M171.8 127.2h.01M171.8 134.1h.01M171.8 128.2h.01M172.4 143.3h.01M172.4 140.5h.01M172.4 146.0h.01M172.4 141.7h.01M172.4 140.4h.01M172.4 145.7h.01M178.0 144.7h.01M178.0 147.6h.01M178.0 149.4h.01M178.0 139.3h.01M178.0 147.0h.01M178.0 148.2h.01M178.0 139.1h.01M178.0 142.9h.01M227.4 134.8h.01M226.6 150.0h.01M225.5 169.6h.01M225.7 165.6h.01M225.5 168.8h.01M225.5 169.7h.01M227.6 165.8h.01M227.5 167.4h.01M227.4 168.5h.01M227.7 164.3h.01M227.7 163.9h.01M227.3 170.8h.01M227.6 164.7h.01M227.4 168.4h.01M252.0 176.6h.01M251.8 179.4h.01M252.5 171.0h.01M252.0 177.1h.01M253.2 163.1h.01" stroke="#8c564b" stroke-width="1.3" stroke-linecap="square" fill="none"/>
<path d="M125.0 136.2L124.8 132.7M125.2 136.4L125.0 133.8M126.0 136.8L125.9 134.1M126.2 136.9L126.0 132.6M127.3 136.6L127.2 133.4M127.9 137.3L127.8 133.9M128.0 137.9L127.8 135.1M129.2 137.3L129.0 134.4M129.9 137.5L129.8 134.8M130.4 138.1L130.3 135.5M129.9 138.4L129.7 134.4M131.0 138.1L130.7 130.5M131.4 138.3L131.3 134.0M132.1 139.0L131.8 130.8M132.3 139.3L132.2 136.3M134.1 140.1L134.0 136.8M134.4 140.1L134.0 130.9M134.9 140.8L134.3 123.3M139.2 142.6L139.2 140.7M142.6 144.0L142.5 141.4M142.7 144.1L142.6 141.8M144.1 143.7L143.9 136.5M143.9 144.6L143.8 142.5M144.7 145.1L144.6 140.7M145.8 145.1L145.7 141.6M146.3 144.7L146.2 141.7M146.6 144.9L146.5 140.5M146.4 145.8L146.3 143.6M146.9 145.6L146.8 143.8M146.9 146.4L146.7 139.1M148.0 146.4L147.6 129.2M148.9 145.9L148.9 142.7M149.1 146.3L149.1 142.9M149.1 147.2L149.1 144.7M150.5 146.9L150.4 142.9M151.0 147.2L150.8 139.7M155.9 150.1L155.9 147.6M156.3 150.1L156.3 147.2M157.4 150.0L157.4 147.6M158.3 150.1L158.2 148.1M158.5 150.1L158.5 146.1M158.5 151.0L158.5 143.5M159.5 151.0L159.5 147.6M159.9 150.8L159.8 140.7M165.1 153.9L165.1 151.3M165.6 154.1L165.6 151.9M165.9 154.7L165.9 151.4M166.3 155.2L166.3 150.3M166.9 154.5L166.9 131.7M167.4 155.0L167.4 150.8M168.2 154.5L168.2 150.4M168.7 155.3L168.7 152.0M168.7 155.7L168.7 153.4M172.0 157.3L172.0 154.2M173.0 157.4L173.0 154.6M173.1 157.5L173.1 153.2M174.4 157.7L174.4 154.1M175.8 158.5L175.8 155.2M176.4 158.0L176.4 152.9M177.5 158.9L177.5 155.0M178.7 159.0L178.7 155.7M178.8 159.3L178.8 155.3M179.2 160.0L179.3 147.5M180.2 160.2L180.2 154.9M180.1 160.4L180.1 152.6M180.9 160.9L181.0 157.9M182.0 160.7L182.3 138.7M182.1 160.9L182.2 158.7M182.8 161.2L182.8 159.0M189.2 164.0L189.4 155.2M189.3 164.7L189.6 152.8M190.7 164.6L190.8 161.1M191.0 165.3L191.1 161.8M191.4 165.5L191.4 162.3M192.1 166.0L192.2 163.3M193.1 165.9L193.2 160.5M193.7 166.1L193.8 163.6M193.4 166.8L193.5 164.7M194.5 166.3L194.6 163.3M194.6 167.1L194.6 164.6M195.7 166.7L195.8 164.0M195.7 168.2L195.8 166.2M196.2 168.0L196.5 153.2M199.5 168.9L199.8 160.5M199.7 169.4L199.8 165.8M200.3 169.5L200.4 166.5M200.9 169.7L201.4 153.3M201.7 170.1L201.8 166.4M202.5 170.2L202.6 167.9M203.3 171.3L203.4 168.4M204.6 170.2L204.9 161.4M204.9 171.0L205.0 168.0M204.8 172.3L204.9 167.8M206.8 172.8L206.8 170.8M207.3 172.7L207.4 169.0M208.1 172.8L208.3 168.8M208.8 173.4L208.9 171.0M212.6 174.2L212.8 170.1M213.4 174.3L213.5 171.2M213.4 175.1L213.6 171.7M214.1 175.4L214.4 167.2M215.0 175.3L215.3 169.5M215.5 175.9L215.6 173.7M215.9 176.3L216.0 173.9M216.4 176.4L216.5 174.2M216.8 177.3L216.9 175.2M218.1 177.4L218.2 174.6M218.5 177.1L218.7 173.8M223.4 178.9L223.7 174.6M223.7 179.6L224.0 173.9M223.5 180.4L223.6 178.1M224.4 180.4L224.5 178.5M225.3 180.3L225.5 176.6M225.5 180.7L225.7 176.8M226.7 180.5L226.8 177.9M227.5 181.0L227.7 177.2M227.9 181.8L228.1 179.2M229.0 181.2L229.3 177.3M229.2 181.7L229.5 177.5M229.9 182.6L230.3 177.0M231.0 182.4L231.2 178.8M231.1 183.2L232.2 165.7M231.4 183.8L232.2 171.4M232.3 184.0L232.5 180.9M234.6 184.7L234.9 180.4M235.5 184.5L235.8 180.0M235.4 185.6L235.7 181.0M236.2 185.6L237.6 165.6M237.1 186.0L237.3 182.8M240.7 186.1L241.0 182.5M241.0 188.1L241.6 179.7M242.5 187.5L243.3 176.6M242.8 187.5L243.3 181.2M243.2 188.3L244.0 176.8M244.0 187.9L244.2 184.9M244.2 189.2L244.5 185.9M245.0 188.6L245.1 186.6M245.5 189.2L245.7 186.2M246.2 189.6L246.9 180.2M247.1 189.6L247.3 187.0M248.0 189.6L248.3 186.4M247.9 190.6L248.2 187.3M248.8 190.2L249.1 186.3" stroke="#9467bd" stroke-width="1.5" fill="none"/>
<path d="M174.4 143.1h.01M174.4 139.5h.01M174.4 141.3h.01M174.4 150.0h.01M189.5 150.4h.01M189.5 151.4h.01M189.5 148.1h.01M189.5 150.1h.01M189.5 150.4h.01M189.5 150.5h.01M189.5 151.9h.01M189.5 152.0h.01M200.4 145.3h.01M200.2 151.7h.01M200.6 138.9h.01M199.9 160.9h.01M200.2 152.0h.01M200.1 156.2h.01M199.9 162.2h.01M200.5 140.4h.01M214.9 157.7h.01M215.0 155.5h.01M214.8 158.8h.01M214.8 158.2h.01M215.8 169.9h.01M215.8 171.0h.01M215.9 167.4h.01M215.8 169.6h.01M216.0 165.9h.01M216.0 165.3h.01M224.6 160.0h.01M225.1 151.4h.01M225.4 146.8h.01M226.0 166.7h.01M227.3 144.5h.01M226.6 156.7h.01M225.8 171.5h.01M225.7 173.0h.01M248.8 156.5h.01M247.3 176.2h.01M247.2 176.6h.01M248.1 165.9h.01M248.6 159.6h.01M248.4 162.0h.01M247.6 172.4h.01" stroke="#9467bd" stroke-width="1.3" stroke-linecap="square" fill="none"/>
<path d="M120.2 138.7L120.0 135.2M120.4 139.1L120.2 135.3M121.7 139.3L121.5 135.0M122.0 139.5L121.8 134.0M121.7 140.2L121.6 138.3M122.6 139.8L122.4 135.9M122.7 140.5L122.6 137.2M123.6 140.0L123.4 135.3M123.6 140.5L123.5 137.7M124.6 140.5L124.5 138.2M125.3 140.3L125.2 138.5M125.9 140.5L125.7 136.3M136.6 146.7L136.5 143.3M136.7 146.9L136.6 143.8M137.1 147.1L137.0 143.1M137.8 147.2L137.6 142.9M138.6 146.9L138.5 143.7M139.0 147.8L138.9 144.5M139.8 147.4L139.7 144.5M141.3 148.8L141.0 137.1M142.4 148.7L142.2 144.4M143.1 148.5L143.0 146.6M143.4 149.7L143.3 146.7M143.8 149.3L143.7 145.0M144.4 149.8L144.3 147.4M144.7 150.4L144.7 148.0M146.3 149.8L146.1 139.4M146.3 150.9L146.2 147.0M146.7 150.4L146.6 146.5M147.6 150.9L147.6 148.7M151.1 152.1L151.1 148.5M151.5 152.6L151.4 150.5M151.4 153.4L151.3 149.1M152.8 152.7L152.7 149.6M152.4 153.7L152.4 151.7M153.4 153.4L153.4 150.0M153.7 154.2L153.6 151.8M154.9 153.9L154.6 131.9M155.8 153.8L155.7 150.4M155.1 154.8L155.1 151.1M156.5 154.9L156.5 153.0M156.4 155.7L156.3 151.1M157.5 155.2L157.5 152.5M157.6 155.6L157.6 152.4M158.4 156.1L158.4 153.7M159.0 156.3L158.9 145.9M160.1 156.2L160.1 153.5M160.4 156.5L160.3 142.8M161.1 157.1L161.1 153.2M161.5 157.0L161.4 153.2M162.3 157.2L162.3 153.0M162.4 157.3L162.3 153.3M162.5 157.8L162.5 146.8M163.2 157.6L163.2 154.7M163.0 158.1L163.0 155.3M163.7 158.9L163.7 155.9M164.9 158.3L164.9 156.3M165.2 158.8L165.2 153.1M165.7 159.3L165.6 146.4M166.2 159.0L166.2 155.6M168.8 160.7L168.8 157.3M170.1 160.3L170.1 156.6M170.3 161.1L170.3 154.7M171.2 161.0L171.2 156.7M171.2 162.2L171.2 157.9M172.6 161.7L172.6 158.5M172.3 162.8L172.3 160.9M173.7 161.7L173.7 158.7M174.1 163.0L174.2 155.5M174.1 163.9L174.1 161.8M174.5 163.4L174.6 152.1M178.3 164.5L178.3 160.6M181.7 166.4L181.8 162.5M182.4 167.1L182.5 157.9M182.4 167.3L182.5 165.0M183.1 167.1L183.1 165.0M184.4 166.9L184.4 164.3M184.9 167.1L185.0 163.5M184.7 167.9L184.7 164.9M185.5 168.7L185.5 166.3M186.9 168.2L187.0 165.8M186.7 168.8L186.8 165.9M187.6 168.8L187.7 165.2M188.6 168.7L188.6 165.4M188.4 170.1L188.7 157.0M189.2 170.3L189.3 167.7M190.0 170.1L190.1 167.2M190.8 170.0L190.8 167.7M191.3 170.2L191.4 162.8M192.0 170.3L192.1 166.1M191.9 171.5L192.0 163.5M192.3 171.3L192.4 166.8M192.9 171.6L193.0 168.1M194.2 171.8L194.3 166.6M195.1 171.8L195.2 168.0M195.2 172.4L195.3 169.2M196.2 172.6L196.3 168.7M195.9 173.1L196.0 169.0M196.8 173.5L197.4 148.9M203.8 176.7L204.1 167.9M204.8 175.9L205.0 171.4M204.7 176.8L204.9 173.0M218.4 182.9L218.5 179.7M219.7 182.4L219.8 180.4M219.6 183.5L219.9 179.0M220.6 183.7L220.7 180.5M220.5 184.3L220.9 177.2M221.2 184.5L221.4 180.5M222.4 184.4L222.7 180.5M223.0 184.9L223.1 181.8M222.8 185.4L223.0 181.3M223.6 185.7L223.8 182.2M225.2 185.0L225.8 174.3M225.9 185.7L226.2 180.0M226.3 185.9L226.5 182.2M227.0 186.2L227.2 182.3M226.9 186.7L228.2 165.8M227.4 187.4L227.6 183.5M228.4 187.3L228.6 183.2M229.1 187.3L229.3 184.4M230.9 188.0L231.1 184.3M231.4 188.9L231.8 182.3M231.9 189.4L232.4 181.9M238.4 191.2L238.6 187.3M238.0 192.2L238.1 190.0M239.2 191.9L240.1 180.2M239.9 191.9L240.4 186.0M240.3 192.6L240.6 188.1M240.9 193.2L242.6 169.6M241.3 193.6L241.5 190.7M243.0 193.7L243.3 190.5M243.2 194.2L243.4 191.2M243.8 194.2L244.4 186.0M244.3 194.2L244.6 190.9" stroke="#d62728" stroke-width="1.5" fill="none"/>
<path d="M172.7 134.6h.01M172.7 135.5h.01M172.7 146.4h.01M172.6 149.2h.01M172.6 152.9h.01M172.6 150.2h.01M190.4 151.3h.01M190.3 155.6h.01M190.3 154.2h.01M190.2 161.5h.01M190.5 145.3h.01M190.4 152.1h.01M190.4 153.1h.01M190.2 159.8h.01M239.2 179.9h.01M239.3 178.0h.01M239.5 174.8h.01M238.8 184.2h.01M240.9 184.1h.01M241.6 175.5h.01M242.7 160.3h.01M242.7 160.4h.01M242.9 156.8h.01M242.2 166.7h.01M244.9 170.7h.01M244.4 177.7h.01M243.8 185.9h.01M244.4 177.8h.01M243.8 185.5h.01M243.9 184.1h.01M244.7 174.2h.01M244.5 176.0h.01" stroke="#d62728" stroke-width="1.3" stroke-linecap="square" fill="none"/>
<path d="M116.6 141.8L116.5 139.7M116.8 142.1L116.7 139.9M117.2 142.3L117.1 140.0M117.7 142.2L117.6 139.6M118.4 142.8L118.2 138.6M119.1 142.7L118.8 137.9M118.8 143.6L118.6 140.0M120.2 143.3L120.0 140.0M120.3 144.1L120.0 137.7M121.1 143.8L120.9 140.2M121.3 144.1L121.2 141.9M121.9 144.3L121.7 139.9M122.6 144.8L122.5 141.6M123.3 144.6L123.1 141.5M123.5 144.7L123.4 141.8M124.1 145.6L123.9 141.6M124.1 146.0L123.9 140.3M124.7 145.6L124.5 141.4M125.8 145.9L125.7 143.0M125.9 145.9L125.8 143.4M125.7 146.6L125.6 143.9M127.2 146.3L127.1 142.5M128.7 147.2L128.6 143.8M128.3 147.8L128.2 145.8M129.6 147.9L129.6 145.8M129.9 148.0L129.5 137.8M129.8 148.7L129.6 144.8M130.8 149.1L130.7 145.6M131.6 148.2L131.1 135.4M131.6 149.1L131.3 141.9M132.8 149.3L132.7 145.8M133.0 149.8L132.8 145.5M142.7 154.2L142.6 150.5M143.2 154.3L143.1 150.1M144.3 154.6L144.2 152.2M148.5 156.4L148.4 152.3M149.4 156.8L149.3 150.3M152.8 159.1L152.7 155.5M153.4 158.9L153.3 155.8M154.0 159.3L153.9 155.8M154.6 159.6L154.4 148.3M156.7 160.2L156.7 157.7M156.7 160.6L156.6 157.5M157.3 160.7L157.3 157.8M160.1 161.9L160.1 158.0M160.2 162.3L160.1 158.8M161.5 161.7L161.5 158.6M162.1 162.4L162.0 148.7M162.4 162.0L162.4 159.3M162.5 163.5L162.5 161.6M163.2 163.7L163.2 160.8M163.5 163.3L163.5 161.0M164.4 163.9L164.4 156.8M164.6 164.5L164.6 160.1M165.1 164.7L165.0 152.1M166.5 164.6L166.4 159.8M166.9 164.7L166.8 158.3M167.0 165.2L167.0 157.3M167.6 165.7L167.5 162.0M170.9 166.9L170.9 163.2M171.2 167.2L171.2 164.6M171.6 167.6L171.6 164.2M172.6 167.7L172.6 164.4M173.6 167.6L173.7 163.4M173.7 168.1L173.7 166.0M174.4 167.9L174.4 164.9M175.3 168.4L175.3 164.9M175.2 168.9L175.2 166.3M175.9 169.5L175.9 166.8M177.0 169.1L177.0 165.9M177.4 169.9L177.5 167.4M178.2 169.2L178.2 167.3M178.2 170.8L178.2 167.9M179.5 170.4L179.6 166.3M179.7 171.3L179.8 167.1M180.8 171.2L180.8 168.6M180.6 171.7L180.8 148.3M181.6 172.0L181.7 169.3M182.0 172.8L182.2 159.9M182.5 172.6L182.5 166.8M184.1 171.9L184.2 168.3M183.9 173.4L184.0 168.9M184.7 173.5L184.8 170.7M187.3 174.8L187.7 156.5M188.3 174.6L188.4 170.3M189.0 174.6L189.0 172.0M189.3 175.2L189.4 171.9M190.4 174.9L190.5 166.9M190.2 175.4L190.3 172.5M190.8 176.3L190.8 173.4M192.2 176.2L192.5 163.4M192.7 176.1L192.8 173.1M192.9 176.7L192.9 174.4M193.8 176.3L193.9 173.4M194.7 177.0L194.7 173.7M195.2 177.0L195.3 173.5M195.2 177.7L195.3 173.9M196.2 178.1L196.3 174.1M196.8 178.4L196.9 174.3M204.8 182.7L205.0 176.5M205.9 182.9L206.0 180.1M206.7 183.4L206.9 176.9M207.7 183.5L207.8 179.4M207.6 184.2L207.7 181.7M208.7 183.5L208.9 179.6M209.1 184.6L209.2 180.5M209.6 184.7L209.7 180.5M211.1 184.5L211.2 180.7M210.6 185.5L210.7 181.1M211.2 186.2L211.3 183.3M212.3 185.5L212.5 181.3M212.8 186.3L212.9 184.3M213.9 186.1L214.1 183.1M214.3 186.2L214.4 183.5M214.1 187.1L214.6 174.9M214.5 187.1L214.7 182.9M215.0 187.2L215.1 184.1M215.9 187.0L216.2 182.4M216.2 187.8L216.4 183.9M217.1 187.8L217.3 183.4M217.6 188.2L217.8 184.1M218.8 188.4L218.9 186.4M218.4 189.3L218.6 184.9M219.2 189.5L219.3 187.3M220.6 189.2L220.8 186.9M220.7 189.5L220.8 186.4M226.5 191.6L226.7 187.7M227.2 192.4L227.3 190.3M227.4 193.0L227.6 188.8M228.3 193.0L228.5 189.6M231.7 194.2L232.0 190.4M231.5 195.0L231.8 190.5M232.4 194.7L232.6 191.7M233.2 195.0L233.5 190.8M234.1 195.7L234.3 193.1M235.0 195.2L235.7 184.5M235.2 195.5L235.8 185.9M235.1 196.5L235.9 185.0M235.4 196.6L235.6 194.1M236.6 196.6L236.8 193.7M239.5 197.8L239.7 194.2M239.7 198.4L239.8 196.2" stroke="#2ca02c" stroke-width="1.5" fill="none"/>
<path d="M167.0 154.9h.01M166.9 143.5h.01M167.0 148.6h.01M167.0 154.2h.01M167.0 153.9h.01M167.0 144.1h.01M167.0 152.3h.01M193.0 169.5h.01M193.2 163.5h.01M193.1 168.6h.01M193.2 163.7h.01M193.1 168.4h.01M209.7 160.3h.01M209.3 170.1h.01M209.0 176.5h.01M209.0 177.2h.01M232.8 177.4h.01M232.3 185.4h.01M232.4 184.4h.01M232.7 179.0h.01M232.3 185.2h.01M232.2 187.5h.01M232.5 182.6h.01M232.3 185.9h.01M236.3 176.7h.01M236.8 169.2h.01M237.0 166.4h.01" stroke="#2ca02c" stroke-width="1.3" stroke-linecap="square" fill="none"/>
<path d="M111.4 145.4L111.2 141.5M111.8 145.8L111.7 143.8M112.6 145.6L112.5 142.7M113.9 145.7L113.7 142.2M113.9 146.0L113.7 142.4M113.8 146.7L113.3 138.2M114.5 147.0L114.3 144.2M115.0 146.9L114.8 142.4M115.6 147.1L115.1 138.9M117.1 146.8L116.9 143.2M130.8 153.7L130.7 150.4M131.4 153.6L131.3 151.1M131.7 153.8L131.6 151.4M132.1 154.6L132.0 152.0M133.1 155.2L133.0 152.4M137.5 156.9L137.4 153.0M138.1 156.3L138.0 152.4M138.1 157.5L138.0 153.6M138.6 157.1L138.5 154.4M139.5 157.6L139.1 144.4M139.5 158.2L139.4 154.2M140.6 158.0L140.5 154.6M141.0 158.8L140.9 153.4M140.9 159.2L140.7 155.3M142.1 158.9L142.0 156.4M142.3 159.0L142.2 155.4M143.3 159.0L143.2 156.5M143.4 159.3L143.3 157.0M143.5 159.9L143.4 157.9M143.9 160.3L143.8 157.2M145.3 159.8L145.3 156.5M145.6 160.4L145.5 157.3M146.7 160.5L146.6 158.4M148.2 161.5L148.0 151.9M149.2 162.4L149.1 158.4M149.5 162.0L149.4 157.9M149.5 162.7L149.4 158.1M150.6 163.1L150.6 160.8M151.7 162.8L151.6 160.2M152.2 163.2L152.2 159.2M152.7 164.1L152.6 161.7M153.1 163.9L153.0 161.5M153.7 164.7L153.6 158.6M153.9 164.3L153.8 153.4M155.2 164.7L155.0 149.9M155.1 164.9L155.0 161.9M155.6 165.7L155.6 162.1M156.6 164.8L156.6 160.6M156.8 165.4L156.8 163.0M157.6 165.9L157.6 161.9M157.5 166.3L157.5 160.5M158.2 166.7L158.1 163.8M158.8 167.2L158.8 164.5M160.3 167.9L160.2 159.7M160.7 168.2L160.7 164.2M162.0 167.8L162.0 164.2M161.9 168.4L161.8 163.5M162.2 168.8L162.1 165.4M163.5 168.7L163.5 164.2M165.8 169.3L165.8 165.8M166.3 169.7L166.2 167.2M167.0 170.0L167.0 168.1M167.0 171.1L167.0 168.0M167.5 171.0L167.5 169.1M168.4 171.1L168.4 165.4M168.4 171.2L168.4 167.1M169.5 171.7L169.5 151.9M169.6 172.3L169.6 169.3M171.1 171.8L171.1 168.6M171.8 172.3L171.8 169.9M172.0 172.8L172.1 164.4M172.8 172.5L172.8 170.0M172.5 173.6L172.5 171.0M174.1 173.2L174.2 164.6M173.6 173.9L173.6 170.3M174.0 174.1L174.1 171.3M174.4 174.6L174.4 169.7M175.5 174.2L175.5 171.5M175.9 174.7L176.0 170.5M177.0 174.5L177.0 169.8M177.2 175.2L177.2 172.2M178.3 175.2L178.3 172.3M177.6 175.6L177.7 173.1M179.3 175.3L179.3 172.0M179.3 176.5L179.4 173.5M180.2 176.3L180.3 174.2M180.9 176.4L181.0 164.6M180.6 177.0L180.6 174.5M182.0 176.5L182.1 174.0M182.6 176.9L182.6 173.8M183.0 177.2L183.1 173.4M183.1 178.2L183.2 175.1M184.5 177.5L184.5 174.2M184.4 178.9L184.4 176.0M185.4 179.1L185.7 162.1M186.0 179.2L186.1 170.6M186.7 179.3L186.8 175.6M186.8 179.8L187.0 170.4M188.1 179.5L188.3 170.2M188.5 179.8L188.6 174.5M189.3 179.7L189.3 175.4M190.3 180.7L190.4 176.8M191.3 180.9L191.3 177.4M195.9 184.0L196.0 180.2M197.0 183.6L197.1 180.9M196.9 184.2L197.0 179.1M197.3 184.6L197.5 180.1M198.1 185.0L198.2 182.6M199.1 184.6L199.8 164.5M199.2 185.6L199.3 182.9M200.2 185.7L200.3 182.8M200.4 186.3L200.5 182.4M202.7 186.6L202.8 184.1M203.4 186.4L203.7 176.6M203.9 187.5L204.0 184.9M204.5 187.8L204.7 181.1M206.9 189.0L207.0 186.4M207.7 189.7L207.8 185.8M209.2 189.6L209.3 186.5M210.0 190.1L210.1 186.4M209.9 190.4L210.1 185.9M211.0 190.3L211.1 188.0M212.0 190.7L212.8 171.0M212.5 191.1L212.6 188.7M212.4 191.9L212.7 185.7M213.6 191.7L213.8 187.3M213.5 192.4L213.6 190.4M214.3 192.4L214.5 187.8M214.8 192.5L215.0 189.9M215.3 192.5L215.4 190.2M216.0 192.7L216.2 189.7M216.3 193.3L216.4 191.2M216.8 194.3L217.2 186.6M218.3 193.7L218.5 189.1M218.2 194.9L218.4 191.1M219.8 194.6L219.9 192.5M220.1 194.4L220.2 191.5M222.1 196.5L222.4 192.2M223.0 196.1L223.4 189.5M223.6 196.2L223.8 192.7M223.7 196.8L224.0 192.2M225.0 197.0L225.3 192.3M225.1 197.6L225.3 194.4M226.7 197.1L226.8 194.2M227.0 197.4L227.5 189.8M227.3 199.0L227.4 196.6M228.4 198.3L228.5 195.4M228.2 199.8L228.5 195.5M230.1 198.6L230.3 195.8M230.3 199.0L230.5 195.9M231.0 199.7L231.3 194.9M231.7 200.1L231.9 198.0M232.5 199.9L232.7 196.8M233.0 200.6L233.2 197.4M233.4 201.6L233.8 195.4M234.6 201.0L234.8 197.3" stroke="#ff7f0e" stroke-width="1.5" fill="none"/>
<path d="M112.9 129.6h.01M113.2 135.5h.01M113.2 135.0h.01M113.1 134.4h.01M113.1 133.5h.01M113.1 133.7h.01M113.1 133.2h.01M153.3 124.5h.01M153.4 129.8h.01M153.5 134.3h.01M153.5 138.7h.01M153.5 136.6h.01M153.6 140.3h.01M153.5 136.7h.01M157.3 152.1h.01M157.4 153.1h.01M157.3 147.5h.01M211.5 152.6h.01M211.1 162.7h.01M211.3 158.4h.01" stroke="#ff7f0e" stroke-width="1.3" stroke-linecap="square" fill="none"/>
<path d="M105.9 147.6L105.8 145.6M109.8 149.5L109.6 147.1M110.1 149.9L109.9 145.6M110.7 149.9L110.3 142.5M110.6 150.3L110.0 140.7M111.3 150.4L110.8 141.5M115.8 152.0L115.5 146.7M116.3 151.9L116.2 149.5M116.3 153.1L116.1 149.8M117.8 152.5L117.6 148.9M131.2 159.4L131.1 157.3M136.9 161.9L136.8 158.8M137.5 162.2L137.4 159.4M138.2 161.9L138.0 158.0M138.9 162.7L138.9 160.1M139.0 163.3L138.9 159.5M141.1 164.6L141.0 160.6M141.4 164.5L141.3 161.1M142.0 165.2L141.8 159.4M142.4 165.2L142.3 161.2M142.9 165.1L142.8 162.5M143.6 165.9L143.5 164.0M144.1 166.1L144.0 163.9M145.3 165.3L145.2 159.6M145.9 165.8L145.8 161.4M146.5 166.5L146.3 158.0M147.2 166.3L147.1 163.5M147.0 167.4L146.9 163.4M147.9 167.3L147.8 163.3M148.8 167.6L148.6 157.8M149.7 167.9L149.7 165.8M150.7 168.0L150.5 158.9M150.5 169.3L150.5 166.0M152.7 169.0L152.5 157.3M152.7 169.3L152.6 166.2M153.0 170.5L152.9 166.1M153.9 170.4L153.8 167.4M154.5 170.3L154.4 165.8M159.5 173.2L159.5 170.4M160.2 173.3L160.1 165.5M161.4 173.0L161.4 170.1M162.3 173.4L162.2 169.8M161.9 173.9L161.9 170.1M162.6 174.5L162.5 169.4M162.9 174.8L162.8 170.8M163.5 174.9L163.5 171.1M164.4 175.0L164.4 171.0M165.2 175.1L165.1 168.7M165.7 175.9L165.7 172.3M165.8 176.4L165.8 172.8M167.2 175.8L167.2 173.0M167.4 176.2L167.4 173.4M168.2 176.5L168.2 174.4M168.3 177.0L168.3 174.2M168.6 177.6L168.6 164.1M169.4 178.1L169.4 174.0M170.6 177.7L170.6 174.8M170.8 177.6L170.9 148.9M171.3 178.8L171.3 174.4M172.5 178.8L172.5 176.3M173.5 178.6L173.6 174.8M173.7 178.6L173.7 175.1M174.4 179.5L174.4 176.0M174.6 180.0L174.6 175.7M175.4 180.3L175.5 177.9M176.2 179.6L176.2 168.4M176.6 180.3L176.6 173.9M177.5 180.7L177.5 176.6M178.0 181.5L178.0 177.8M178.5 181.4L178.5 177.9M179.3 181.6L179.4 179.5M179.9 181.6L179.9 179.3M180.3 182.1L180.3 177.6M181.9 183.5L182.0 180.4M182.3 184.1L182.3 177.6M183.2 184.1L183.2 179.9M183.6 184.1L183.6 180.0M184.7 184.1L184.7 180.7M185.0 184.9L185.2 169.4M186.2 185.2L186.3 181.1M186.2 185.8L186.2 181.7M186.6 186.0L186.6 183.8M187.6 185.7L187.7 181.3M188.1 185.9L188.1 182.8M189.1 185.9L189.1 183.0M189.7 186.2L189.8 183.2M190.1 186.4L190.2 183.3M191.3 187.5L191.4 183.1M191.6 187.5L191.8 180.0M192.0 188.1L192.4 169.7M192.3 188.1L192.4 185.7M193.9 188.2L193.9 186.0M194.4 188.9L194.4 185.2M194.5 189.8L194.6 186.4M195.9 189.6L196.6 163.6M196.6 189.8L196.8 183.1M197.2 189.8L197.2 186.8M197.3 189.9L197.4 186.9M200.6 191.1L200.6 188.8M200.3 191.7L200.9 173.5M201.4 192.0L201.5 189.8M201.6 192.8L202.0 178.9M202.4 192.5L202.6 188.3M202.7 192.8L202.8 189.5M203.5 193.2L203.6 190.1M203.8 194.2L203.9 191.1M204.5 193.9L204.7 189.0M205.2 194.2L205.3 192.1M206.5 193.8L206.6 190.5M206.2 195.0L206.4 190.1M207.1 194.5L207.2 190.1M207.4 195.0L207.6 192.0M215.0 198.8L215.2 195.0M216.3 199.1L216.5 194.9M216.8 198.9L217.1 194.5M217.2 199.2L217.4 196.1M217.7 199.7L217.9 196.1M218.6 200.1L220.0 173.3M219.5 200.4L219.6 198.3M220.5 200.1L220.6 197.7M220.1 201.1L220.5 192.3M221.7 200.9L221.9 197.9M222.0 201.7L222.2 197.4M222.7 202.2L222.9 198.7M225.7 203.5L225.9 199.1M226.8 203.7L226.9 201.6M227.6 203.7L227.7 200.6M228.2 204.1L229.3 184.9M229.4 204.8L229.6 202.5M229.8 205.9L230.0 202.9M230.9 205.4L231.1 201.4" stroke="#1f77b4" stroke-width="1.5" fill="none"/>
<path d="M153.6 153.5h.01M153.8 163.8h.01M153.7 160.0h.01M153.7 162.1h.01M153.7 160.1h.01M153.8 164.2h.01M220.8 193.8h.01M221.0 190.3h.01M221.0 190.4h.01M220.7 195.1h.01M221.1 189.1h.01M221.1 188.0h.01" stroke="#1f77b4" stroke-width="1.3" stroke-linecap="square" fill="none"/>
<path d="M101.4 151.5L101.2 148.3M102.5 151.1L102.3 147.0M102.1 151.7L101.8 147.4M102.9 151.9L102.6 147.6M104.0 151.6L103.8 148.7M117.8 159.5L117.7 156.3M118.7 158.9L118.6 156.9M128.1 163.5L127.9 160.2M128.9 163.2L128.7 160.0M129.3 163.5L129.1 157.4M129.5 164.4L129.4 161.0M130.0 164.6L129.9 160.3M131.1 164.5L130.9 160.8M131.6 164.5L131.5 161.0M131.5 165.6L131.4 162.7M132.8 165.1L132.7 161.9M132.4 166.1L132.2 162.1M133.5 166.1L133.3 162.9M134.3 166.4L133.8 151.3M135.0 166.2L134.7 156.4M134.7 167.2L134.6 164.3M135.2 167.1L135.0 163.0M136.7 167.2L136.6 164.0M136.4 168.1L136.2 163.8M137.1 167.9L137.0 165.7M137.9 167.7L137.6 158.5M138.3 168.2L138.0 161.1M139.4 168.2L139.3 165.5M139.5 169.1L139.3 161.6M139.7 169.4L139.7 166.9M140.5 169.2L140.3 160.6M141.2 170.2L141.1 168.2M142.3 169.6L142.2 165.5M142.7 170.4L142.6 166.0M142.4 170.8L142.4 168.3M143.1 171.0L143.0 168.2M143.6 170.8L143.5 166.6M144.1 171.7L144.0 168.2M145.1 171.2L144.9 165.8M146.2 171.2L146.2 169.3M145.6 172.4L145.3 161.4M146.7 172.2L146.6 168.1M153.1 174.9L153.0 171.6M153.8 175.2L153.6 165.0M154.3 175.6L154.3 172.5M154.7 176.0L154.7 173.9M155.0 176.9L154.8 163.4M156.2 176.2L156.2 173.1M157.4 177.5L157.4 175.2M158.6 177.4L158.5 170.5M159.6 178.0L159.5 174.7M159.4 178.7L159.4 174.9M161.3 178.9L161.2 166.2M161.7 178.3L161.6 174.5M162.0 179.0L162.0 171.1M162.7 178.7L162.6 174.4M162.5 180.0L162.4 163.9M163.1 180.0L163.1 175.4M166.1 182.1L166.1 168.9M166.8 181.9L166.8 179.2M167.5 182.0L167.5 179.8M168.8 181.8L168.8 179.2M169.2 182.3L169.2 178.4M169.6 182.3L169.6 178.4M169.6 183.3L169.6 168.2M170.6 183.2L170.6 178.9M170.9 183.0L170.9 179.8M170.7 184.1L170.7 181.9M172.3 183.7L172.3 181.5M173.3 183.8L173.3 180.2M173.0 185.3L173.0 183.3M173.6 185.8L173.7 183.9M174.7 185.2L174.7 182.6M174.8 185.9L174.8 175.1M179.8 187.0L179.8 183.3M179.7 188.3L179.7 186.1M180.9 188.3L181.0 185.3M181.6 188.4L181.6 184.2M182.1 188.7L182.1 184.6M182.7 188.9L182.7 186.5M183.0 189.6L183.1 185.2M183.2 189.8L183.2 187.6M184.2 189.0L184.3 185.1M184.5 189.7L184.5 186.5M185.3 190.1L185.4 178.3M184.8 190.7L184.8 186.1M185.8 190.7L185.9 187.3M186.1 191.6L186.2 184.7M187.1 191.1L187.2 184.4M187.5 191.5L187.5 189.5M188.1 192.0L188.2 188.2M190.0 192.0L190.0 189.7M190.6 192.9L190.7 188.5M191.3 193.1L191.4 190.3M191.8 193.6L191.9 187.1M192.1 193.8L192.2 189.4M193.1 194.0L193.2 189.4M193.8 194.5L193.8 191.8M194.6 194.1L194.7 191.1M195.4 194.6L195.5 191.5M195.4 195.4L195.5 190.9M196.1 195.8L196.3 191.3M196.9 196.2L197.0 193.4M197.1 197.0L197.2 191.3M200.5 196.8L200.8 189.7M201.5 197.2L201.6 194.2M202.0 198.4L202.2 193.9M201.8 199.2L202.0 192.3M203.3 198.3L203.4 195.1M203.0 199.1L203.2 194.5M203.8 199.9L204.4 184.5M204.3 200.0L204.4 197.5M204.9 199.7L205.0 196.0M205.4 200.2L205.5 197.6M206.6 200.6L206.7 198.1M207.5 201.5L207.6 199.5M214.0 203.9L214.1 200.0M214.2 203.9L215.1 184.4M214.3 205.0L214.5 202.0M215.1 205.0L215.3 200.6M215.6 205.1L215.8 200.9M216.5 205.4L216.7 201.6M218.0 205.9L218.2 202.4M219.7 207.4L219.8 205.1M221.5 207.1L221.6 203.8M221.2 208.2L221.6 199.8M222.1 208.0L222.3 204.0M222.2 209.0L222.4 205.6M224.0 207.9L224.2 205.1M224.3 208.7L224.6 204.0M225.5 208.8L225.7 205.7M225.5 210.2L225.7 206.5M226.5 210.2L226.7 207.3M227.1 210.6L228.1 194.0M228.2 210.3L228.3 208.2" stroke="#17becf" stroke-width="1.5" fill="none"/>
<path d="M133.0 130.1h.01M133.5 142.9h.01M132.9 128.2h.01M133.7 148.4h.01M143.5 150.6h.01M143.6 155.1h.01M143.6 153.1h.01M143.3 143.7h.01M170.6 164.2h.01M170.6 171.0h.01M170.6 171.8h.01M170.6 168.7h.01M170.6 164.8h.01M170.6 170.9h.01M170.6 176.0h.01M191.4 155.3h.01M191.0 174.2h.01M190.8 183.4h.01M190.8 184.0h.01M198.1 160.4h.01M197.3 186.7h.01M197.3 188.0h.01M197.8 171.0h.01M197.8 171.3h.01M204.0 177.0h.01M203.5 190.9h.01M203.7 186.7h.01M203.6 190.3h.01M229.3 192.9h.01M229.7 186.7h.01M229.2 193.9h.01M230.3 176.7h.01M229.5 188.8h.01M230.3 175.5h.01M230.1 179.9h.01M228.8 201.0h.01" stroke="#17becf" stroke-width="1.3" stroke-linecap="square" fill="none"/>
<path d="M96.9 154.2L96.7 151.3M97.5 154.2L97.2 149.9M97.7 155.0L97.2 148.3M97.9 154.7L97.7 151.1M98.8 155.0L98.7 153.0M99.9 155.2L99.6 151.5M100.1 155.4L99.8 151.3M100.9 155.5L100.2 145.0M101.6 156.0L101.4 152.3M101.0 156.7L100.9 154.6M101.5 157.1L101.3 154.4M102.6 156.6L102.3 152.4M103.0 156.4L102.6 150.0M103.3 157.5L103.0 154.0M103.1 157.5L102.9 154.2M104.1 157.9L103.8 153.4M104.5 157.9L104.3 154.6M104.8 158.4L104.6 154.4M105.8 158.3L105.6 154.8M106.4 158.3L106.1 154.5M106.9 159.0L106.7 155.1M106.8 159.5L106.4 154.5M106.9 159.5L106.7 156.5M107.8 159.2L107.5 155.1M108.2 159.5L108.0 155.9M108.6 160.4L108.4 156.9M109.0 160.1L108.8 156.3M112.8 162.2L112.6 158.1M117.1 163.7L117.0 160.5M117.4 163.9L117.3 161.8M118.1 163.8L117.9 160.3M119.4 164.6L119.2 161.3M119.6 165.0L119.5 162.9M120.4 165.2L120.1 160.8M120.8 165.2L120.6 161.4M120.7 166.2L120.5 162.6M120.7 166.1L120.3 159.6M122.2 165.9L122.0 162.4M122.8 166.2L122.5 159.1M122.8 166.8L122.7 164.4M123.2 167.0L123.1 163.0M123.4 166.8L123.2 163.0M123.8 167.3L123.7 165.4M124.8 167.4L124.7 165.5M125.2 167.8L124.5 151.5M126.4 168.0L126.0 158.2M126.6 167.8L126.5 164.3M126.6 168.3L126.4 165.2M127.6 168.5L127.4 162.5M128.1 168.7L128.0 164.9M128.7 168.9L128.5 166.0M128.7 168.9L128.6 166.6M129.2 169.6L129.0 166.3M129.6 170.1L129.0 157.2M134.0 171.2L133.9 166.9M136.7 172.4L136.2 156.9M138.2 173.3L138.1 170.2M138.1 173.9L137.9 169.7M138.8 174.7L138.7 171.2M139.0 175.3L138.9 173.3M140.2 174.7L140.1 170.1M141.2 174.6L141.1 172.2M140.8 175.3L140.4 163.4M141.6 175.5L141.5 172.7M142.1 175.4L142.0 172.3M142.0 176.7L141.9 174.2M143.0 176.8L142.7 165.2M144.1 176.9L144.0 173.7M144.1 176.9L144.0 172.7M145.3 176.9L145.2 172.8M145.3 177.6L145.2 174.7M145.9 177.8L145.7 173.7M147.1 177.9L147.0 174.9M147.6 178.1L147.5 174.4M148.4 178.6L148.4 175.7M148.5 179.0L148.4 174.8M149.2 179.4L149.2 177.2M150.1 179.3L149.7 157.7M150.8 179.5L150.7 177.5M150.7 179.5L150.7 177.4M150.6 180.1L150.6 177.8M152.2 180.3L152.1 176.5M151.9 180.9L151.8 177.3M152.3 180.8L152.2 176.8M153.5 181.0L153.4 177.2M153.3 181.5L153.3 178.6M153.9 181.6L153.9 178.3M155.2 181.4L155.2 177.3M154.9 182.7L154.9 178.1M155.7 182.6L155.7 180.3M157.1 182.7L157.0 173.6M157.3 183.1L157.2 178.7M158.4 182.7L158.3 178.2M157.9 184.2L157.9 181.4M159.6 183.2L159.5 180.3M159.5 184.5L159.5 181.3M160.0 184.2L159.9 181.0M161.0 184.2L161.0 180.1M166.0 186.8L165.9 182.2M167.0 187.2L166.9 183.8M167.1 188.2L167.1 183.9M167.3 188.3L167.3 186.0M168.5 187.8L168.5 183.3M168.3 188.3L168.3 183.7M169.2 188.3L169.2 186.0M169.9 188.7L169.9 185.9M169.7 189.4L169.7 186.7M170.6 189.6L170.6 187.3M170.6 190.1L170.6 187.5M171.5 190.2L171.5 186.5M171.8 190.6L171.8 186.7M172.5 190.3L172.5 187.8M173.5 190.5L173.5 188.1M173.7 190.6L173.7 186.2M174.3 191.1L174.3 187.6M174.6 191.7L174.6 188.6M175.6 192.3L175.6 188.6M176.6 192.5L176.6 187.8M176.9 193.1L176.9 189.0M177.2 193.6L177.3 185.1M178.5 193.4L178.5 190.1M180.6 194.4L180.6 190.4M183.4 194.7L183.5 190.6M183.4 196.1L183.4 192.5M184.5 195.8L184.5 192.1M185.2 196.3L185.3 192.1M185.5 196.3L185.6 194.1M185.7 197.4L185.7 193.8M186.6 196.9L186.7 190.0M186.9 197.2L187.2 181.8M187.2 197.6L187.2 195.4M188.0 197.6L188.0 194.2M188.9 197.8L189.0 191.0M189.2 197.7L189.2 194.3M189.3 198.8L189.4 195.3M189.7 198.9L189.8 195.4M190.2 198.7L190.2 196.2M191.3 198.8L191.3 196.6M191.5 199.3L191.5 195.5M192.0 200.0L192.0 197.1M192.4 200.4L192.5 195.9M193.5 200.2L193.6 197.4M193.6 201.4L193.7 198.8M194.5 201.1L194.8 189.4M195.3 201.7L195.4 198.6M195.6 201.9L195.8 194.2M196.0 201.8L196.4 188.4M197.3 201.5L197.4 196.0M197.3 202.7L197.4 198.3M198.0 202.8L198.1 199.5M198.5 203.7L198.6 199.9M200.1 203.1L200.2 200.8M200.1 204.6L200.3 197.6M201.3 203.9L201.5 198.6M202.1 203.8L202.3 195.7M202.1 204.9L202.3 200.8M202.7 205.5L203.1 196.3M203.8 205.0L203.9 201.4M203.4 205.9L203.6 201.1M204.5 205.6L204.9 195.8M210.9 209.8L211.1 207.2M212.0 210.0L212.1 207.5M212.4 210.2L213.0 197.6M213.3 210.0L213.4 207.9M214.0 210.6L214.1 207.1M214.8 210.6L214.9 208.2M216.0 210.9L216.2 206.2M216.4 211.5L216.6 207.6M216.6 211.9L216.8 208.7M218.1 211.7L218.4 207.1M217.8 213.1L218.0 209.3M219.3 212.6L220.2 193.8M219.7 213.6L219.9 209.4M222.2 214.0L223.5 190.0M223.5 214.4L223.7 211.4M223.5 214.8L224.2 202.9" stroke="#bcbd22" stroke-width="1.5" fill="none"/>
<path d="M116.8 152.1h.01M116.8 152.5h.01M117.1 157.0h.01M135.9 147.5h.01M135.8 145.5h.01M135.7 143.1h.01M135.9 147.2h.01M136.0 152.0h.01M135.9 147.2h.01M148.1 161.9h.01M148.2 167.5h.01M148.0 156.8h.01M148.1 161.9h.01M148.1 163.8h.01M147.9 156.3h.01M187.5 180.5h.01M187.7 169.2h.01M187.3 189.1h.01M187.5 181.0h.01M201.6 195.4h.01M202.6 165.2h.01M202.0 185.5h.01M202.6 166.2h.01M202.3 176.0h.01M205.0 191.3h.01M205.1 189.7h.01M205.9 168.5h.01M205.5 178.6h.01M205.1 188.0h.01M205.8 169.4h.01M205.0 192.4h.01" stroke="#bcbd22" stroke-width="1.3" stroke-linecap="square" fill="none"/>
<path d="M91.3 157.4L90.9 152.2M102.8 162.9L102.6 159.2M103.6 163.2L103.4 160.9M103.4 163.7L102.6 152.1M104.5 163.8L103.9 154.7M106.7 164.0L106.4 159.9M107.0 164.1L106.8 161.3M107.5 164.6L107.3 162.5M108.1 165.0L107.9 162.8M107.8 165.6L107.6 162.7M108.4 165.7L108.2 163.2M108.8 166.1L108.7 164.1M111.7 167.1L111.5 163.7M112.9 166.7L112.6 162.2M112.6 167.9L112.3 161.9M113.5 167.8L113.3 164.2M114.6 168.1L114.5 164.9M114.6 168.4L114.3 161.6M115.6 168.1L115.4 165.3M115.5 169.2L115.2 165.2M115.9 169.2L115.8 167.0M116.9 169.0L116.6 163.7M117.2 169.5L117.1 167.4M118.1 169.2L117.9 166.0M118.1 170.1L117.9 166.8M119.3 170.3L118.1 147.1M119.0 171.2L118.8 168.2M122.2 172.3L122.1 169.8M123.0 172.7L122.5 161.6M123.8 172.4L123.7 169.0M124.2 173.3L124.0 169.6M124.7 173.4L124.6 171.3M125.4 174.1L125.3 171.1M125.9 174.5L125.8 172.2M126.2 174.6L126.1 172.7M127.6 174.5L127.4 170.1M128.0 175.2L127.9 170.8M128.8 175.2L128.6 171.4M129.4 175.9L128.8 160.7M130.6 176.0L130.1 163.3M131.2 175.9L131.1 173.7M131.6 176.6L131.5 173.4M132.4 177.1L132.2 170.6M132.2 177.4L132.0 174.5M133.7 176.8L133.5 172.5M133.8 177.6L132.9 151.2M133.8 178.0L133.7 174.7M135.1 177.6L134.9 173.4M135.5 178.5L135.4 175.0M137.7 179.5L137.6 176.9M138.5 179.5L138.1 166.9M138.9 180.4L138.8 177.5M139.1 180.2L139.1 178.2M140.4 180.4L140.2 174.2M140.9 180.3L140.8 176.5M141.0 181.4L140.9 176.9M141.6 181.9L141.5 177.6M143.2 182.4L143.1 179.0M143.7 182.4L143.6 178.3M144.9 182.6L144.8 180.6M144.8 183.5L144.6 179.1M145.7 183.2L145.6 179.7M146.0 184.2L146.0 181.5M148.6 184.6L148.6 182.0M149.3 185.4L149.2 181.1M149.3 186.2L149.3 184.0M150.5 185.7L150.4 182.8M150.8 186.0L150.7 182.0M151.2 186.4L151.2 184.1M152.7 186.3L152.6 184.1M153.2 186.7L153.1 182.4M153.6 187.2L153.6 185.1M154.4 187.5L154.4 182.9M155.0 188.1L154.9 184.9M155.6 188.2L155.4 175.6M156.2 188.4L156.1 184.9M160.1 190.0L160.0 185.4M160.7 189.9L160.7 186.9M161.2 190.2L161.2 187.4M161.8 191.2L161.8 182.5M162.7 190.7L162.7 187.5M162.9 191.7L162.9 189.4M163.6 191.6L163.5 189.2M164.4 191.7L164.4 187.4M164.2 192.8L164.1 167.1M165.2 192.6L165.2 188.8M166.0 192.9L166.0 189.3M166.6 193.4L166.5 189.6M167.3 193.2L167.3 190.5M167.0 194.2L167.0 190.7M168.0 194.7L168.0 190.8M168.4 194.8L168.4 190.8M169.1 195.1L169.1 191.7M170.0 195.4L170.0 186.4M172.5 196.4L172.5 192.2M173.4 197.2L173.5 184.1M174.1 197.4L174.1 195.1M174.9 197.6L175.0 195.5M175.6 198.6L175.7 195.4M177.1 198.1L177.1 195.6M177.6 198.3L177.7 194.1M178.0 198.6L178.0 195.3M178.0 199.6L178.0 197.4M179.2 199.8L179.3 196.2M179.1 200.3L179.2 197.5M180.7 199.9L180.7 195.9M180.9 201.0L181.0 192.5M181.9 200.4L182.0 197.3M182.7 200.6L182.8 197.7M182.7 201.9L182.7 199.1M184.0 201.7L184.1 197.4M184.2 202.7L184.2 199.6M188.6 203.8L188.7 200.6M188.1 204.8L188.2 200.3M190.0 204.4L190.2 195.1M189.9 205.3L190.0 200.8M190.8 205.5L190.9 197.4M191.2 205.6L191.3 202.0M192.0 205.6L192.2 200.7M191.9 206.3L192.0 204.0M193.2 206.6L193.3 202.3M193.5 206.2L193.6 204.1M193.7 206.8L194.0 195.2M194.1 207.5L194.3 200.4M195.2 207.6L195.3 204.1M196.0 207.5L196.1 203.2M196.2 208.4L196.3 204.8M197.4 208.3L197.5 203.9M197.6 209.0L197.6 205.8M198.7 208.6L199.1 197.0M199.3 209.2L199.5 205.4M199.3 209.7L199.5 203.0M199.7 209.9L199.8 206.5M202.1 210.9L202.4 203.5M203.0 211.0L203.1 208.8M203.2 212.0L203.3 209.0M203.9 212.0L204.0 209.6M204.9 212.0L205.1 207.7M205.6 212.3L206.1 199.1M206.2 212.9L206.3 208.9M206.7 213.4L207.8 185.6M207.2 214.2L207.4 209.8M208.1 214.2L208.3 211.5M209.1 214.1L209.3 211.4M209.7 213.9L209.9 210.1M210.5 214.7L210.6 212.1M211.1 215.0L211.3 210.3M211.4 215.8L211.6 212.0M212.2 215.4L212.3 212.7M213.0 215.8L213.2 211.2M213.6 216.1L213.7 213.1M213.4 216.7L213.7 210.0M214.1 217.2L214.2 214.6M215.3 216.8L215.4 214.8M215.8 217.7L216.2 210.4M216.1 217.8L216.5 209.1M216.7 218.4L217.1 211.3M219.3 219.8L220.3 200.9" stroke="#7f7f7f" stroke-width="1.5" fill="none"/>
<path d="M114.2 159.5h.01M113.8 152.6h.01M114.3 161.6h.01M114.3 161.6h.01M138.9 173.7h.01M138.9 174.0h.01M139.0 174.7h.01M139.8 140.9h.01M140.2 154.5h.01M140.7 171.5h.01M140.7 172.3h.01M148.4 173.1h.01M148.5 179.0h.01M148.3 172.0h.01M148.3 172.4h.01M182.8 190.4h.01M182.9 186.2h.01M183.1 170.5h.01M183.1 172.0h.01M212.8 202.0h.01M213.9 177.9h.01M212.7 203.0h.01M212.8 201.9h.01M213.2 193.1h.01M213.7 180.7h.01M213.6 183.8h.01" stroke="#7f7f7f" stroke-width="1.3" stroke-linecap="square" fill="none"/>
<path d="M86.6 160.6L86.3 157.8M87.9 160.7L87.8 158.6M87.5 161.5L87.2 157.2M88.9 160.7L88.5 156.4M89.0 161.7L88.8 159.1M89.2 161.8L89.0 158.9M89.3 162.6L89.1 159.7M90.0 163.0L89.8 160.1M90.7 162.4L90.4 158.8M90.9 162.9L90.6 158.5M91.9 163.5L91.7 160.4M92.8 163.9L92.5 159.4M93.0 163.7L92.6 159.2M94.1 163.4L93.4 155.0M94.6 164.0L94.3 160.4M95.0 164.4L94.7 160.5M95.0 164.3L94.5 157.5M95.4 164.3L95.3 162.4M97.2 165.9L97.0 163.3M97.8 166.0L97.6 163.0M98.6 165.7L97.9 155.5M98.7 166.5L98.5 163.5M99.3 166.4L99.0 161.9M100.1 166.5L99.9 164.1M100.2 167.7L100.0 165.1M101.4 167.8L101.2 165.3M102.0 167.7L101.8 165.1M102.1 167.7L101.9 164.0M102.0 168.7L101.8 165.2M103.6 167.9L103.3 164.0M103.3 168.5L103.1 165.5M104.5 168.9L104.3 165.5M104.8 168.7L104.1 158.5M105.4 169.6L105.2 165.8M105.7 169.8L105.4 166.6M106.3 170.5L106.1 167.1M106.5 170.6L106.3 168.5M108.0 170.5L107.7 166.1M108.0 171.3L107.9 168.9M111.5 172.0L111.3 168.7M111.8 172.4L111.6 168.5M111.7 173.0L111.5 169.4M112.3 173.6L111.9 165.8M113.0 173.7L112.5 164.5M113.3 173.9L113.1 170.6M114.5 174.8L114.4 172.9M115.7 174.5L115.5 170.4M115.9 175.4L115.7 172.4M117.2 174.6L117.0 171.9M117.0 175.1L116.9 173.0M117.7 175.9L117.6 173.5M118.6 175.8L118.4 171.9M119.3 175.6L119.1 171.1M119.0 176.7L118.9 173.0M120.3 176.9L119.2 156.4M120.0 177.7L119.9 174.9M120.7 177.8L120.5 174.4M120.9 177.7L120.3 166.6M122.3 177.4L121.4 159.0M122.4 178.0L122.2 174.3M122.6 178.8L122.5 176.0M123.3 178.4L123.2 174.8M124.0 179.1L123.8 176.0M123.9 179.7L123.8 176.6M125.2 179.1L125.0 174.8M125.3 179.4L125.1 175.4M126.2 179.9L126.0 175.5M126.7 179.6L126.5 176.3M126.9 180.1L126.7 175.6M127.9 180.2L127.8 176.9M127.8 180.7L127.7 177.6M128.8 181.3L128.7 179.0M129.2 181.8L129.0 175.8M129.1 182.3L128.6 169.1M130.4 182.0L130.3 179.1M130.4 182.5L129.8 168.5M131.3 182.2L131.3 179.8M130.9 182.7L130.8 179.0M132.3 183.2L132.1 177.4M133.2 183.2L132.9 176.8M133.1 183.3L133.0 179.4M134.4 183.3L134.0 173.1M134.8 183.2L134.5 176.1M134.9 183.5L134.8 180.1M135.8 184.0L135.7 181.5M136.4 184.8L136.1 177.3M136.8 185.4L136.7 183.0M137.4 185.8L137.3 183.1M138.0 186.0L137.9 182.6M137.9 186.3L137.5 172.8M138.5 186.5L138.4 183.6M139.9 186.6L139.9 184.4M139.8 187.3L139.8 185.4M141.2 187.2L141.2 185.1M141.1 187.5L141.0 185.5M147.7 190.4L147.6 188.0M147.4 191.5L147.3 188.4M148.0 191.0L147.9 186.9M148.9 191.5L148.8 188.9M149.3 191.5L149.2 188.1M150.7 191.6L150.6 187.9M150.3 192.7L150.2 188.2M151.1 192.4L151.0 187.3M151.3 192.6L151.3 188.9M152.6 193.4L152.5 191.3M153.4 193.7L153.4 190.8M153.9 193.8L153.8 189.7M154.5 193.3L154.3 184.5M154.6 193.9L154.6 191.1M154.7 194.5L154.6 190.4M155.8 194.6L155.7 191.1M156.7 194.9L156.6 192.5M156.4 195.3L156.4 192.9M157.6 195.2L157.5 189.2M158.8 195.3L158.8 189.9M158.7 196.4L158.6 188.7M159.3 196.6L159.2 190.9M164.2 198.6L164.1 190.6M164.9 199.1L164.9 194.2M164.9 199.8L164.8 197.8M166.2 198.9L166.2 196.0M166.5 199.4L166.5 196.2M166.7 199.8L166.7 196.0M167.7 199.4L167.7 196.0M167.4 200.9L167.4 196.6M168.8 200.0L168.8 195.7M168.4 201.5L168.4 198.4M169.3 201.5L169.3 198.0M170.0 201.7L170.0 199.3M170.4 201.6L170.4 196.6M170.3 202.6L170.4 198.2M171.0 202.4L171.0 179.9M171.8 203.1L171.8 199.3M172.0 203.4L172.0 199.3M173.4 203.0L173.4 200.8M173.5 203.7L173.6 200.0M174.5 203.2L174.5 198.8M174.8 203.9L174.9 187.6M175.2 204.7L175.2 200.7M176.5 203.9L176.5 201.0M176.6 205.0L176.6 203.0M177.5 204.4L177.5 201.2M177.5 205.7L177.5 196.9M178.7 205.4L178.7 202.8M178.7 206.4L178.7 203.2M179.8 205.7L179.9 201.7M180.4 206.8L180.4 202.7M180.5 207.5L180.6 204.7M181.4 207.6L181.4 201.4M182.2 207.4L182.3 203.1M182.9 208.0L183.0 200.1M183.8 207.9L183.8 205.6M184.0 208.2L184.1 204.4M184.9 208.4L185.0 203.6M185.1 209.1L185.2 202.3M185.5 209.5L185.5 206.8M186.5 209.2L186.6 202.3M187.3 209.0L187.4 204.3M187.3 210.6L187.3 207.2M192.1 211.8L192.3 202.5M192.1 212.0L192.2 210.0M192.2 212.9L192.3 208.5M193.0 212.8L193.1 208.7M193.4 213.4L193.5 210.1M207.3 220.7L207.5 217.2M208.7 220.4L209.4 205.8M208.9 220.4L209.1 216.4M209.6 221.0L209.7 218.9M210.1 220.7L210.3 216.3M210.4 221.1L210.5 217.7M210.6 222.1L210.7 218.4M211.9 221.9L212.1 217.3" stroke="#e377c2" stroke-width="1.5" fill="none"/>
<path d="M98.0 137.6h.01M99.6 159.2h.01M99.0 150.9h.01M98.0 136.8h.01M99.3 155.1h.01M98.7 147.3h.01M98.9 150.3h.01M98.1 138.1h.01M100.8 150.4h.01M100.5 146.1h.01M101.1 155.1h.01M100.5 145.9h.01M180.0 190.3h.01M180.1 179.5h.01M180.0 191.2h.01M180.0 187.3h.01M180.0 187.0h.01M180.1 183.7h.01M179.9 197.5h.01M179.9 196.8h.01M192.4 198.2h.01M192.2 206.7h.01M192.3 202.5h.01M211.0 199.2h.01M210.4 213.7h.01M210.9 202.4h.01M210.8 204.4h.01" stroke="#e377c2" stroke-width="1.3" stroke-linecap="square" fill="none"/>
<path d="M80.8 163.7L80.5 160.6M81.1 164.2L80.9 161.6M82.5 163.8L82.2 160.4M82.9 163.8L82.5 159.8M86.6 167.4L86.2 163.4M87.6 166.8L87.4 164.2M88.8 166.6L87.9 156.5M88.8 167.6L88.5 164.3M88.6 168.3L88.4 166.3M89.7 168.4L89.4 164.9M90.9 167.8L90.4 161.9M91.0 168.3L90.6 163.8M92.4 168.7L92.1 163.9M92.7 168.9L92.2 162.6M94.4 170.3L94.1 166.9M94.9 170.4L94.7 167.6M95.6 170.1L95.3 166.7M95.4 171.3L94.1 154.8M96.1 170.9L95.9 168.7M96.9 171.5L96.6 167.1M97.7 171.4L97.5 167.9M98.4 171.4L97.6 160.9M98.4 172.5L98.3 170.4M108.3 177.9L108.1 174.6M109.7 177.1L109.3 170.8M110.3 177.6L109.3 161.2M110.3 177.9L109.6 165.8M111.4 178.2L111.3 175.1M111.7 178.7L111.2 170.2M112.4 179.0L112.3 176.5M113.1 179.6L112.9 175.6M113.6 179.2L113.4 175.0M114.4 179.3L114.0 172.3M114.2 180.4L113.5 168.2M115.3 180.7L115.0 176.2M115.8 180.5L115.6 176.9M115.9 181.1L115.8 178.9M117.0 180.6L116.7 175.3M116.8 181.2L115.8 162.9M117.8 181.5L117.7 178.7M121.7 184.2L121.6 180.5M122.8 184.1L122.6 181.3M123.6 184.2L123.4 179.7M127.1 186.8L127.0 183.7M127.8 187.3L127.7 184.6M128.3 188.2L128.2 184.6M129.2 187.7L129.1 184.4M129.5 188.6L129.1 180.9M130.1 188.2L130.0 185.0M131.0 188.2L130.6 178.5M131.6 188.5L131.5 185.5M132.4 189.2L132.3 186.8M132.7 189.3L132.6 185.3M133.4 189.5L133.2 185.6M133.6 189.4L133.5 186.1M134.2 190.5L134.1 188.5M134.9 190.3L134.7 186.2M135.0 190.4L134.7 181.6M136.0 190.3L135.9 186.6M135.5 191.1L135.4 187.0M136.1 191.7L136.0 188.3M137.5 191.3L137.5 189.1M137.9 191.8L137.5 179.7M138.2 192.4L138.1 189.7M139.0 192.3L138.9 189.1M139.5 192.4L139.4 189.6M140.4 192.4L140.3 190.2M140.7 193.0L140.6 190.2M142.3 193.1L142.2 189.8M141.8 194.3L141.8 192.1M142.6 194.9L142.6 192.9M143.7 194.5L143.6 190.8M144.6 195.1L144.5 192.3M145.1 195.2L145.0 192.1M145.0 196.2L144.9 192.3M146.0 196.3L145.9 192.5M146.0 196.9L146.0 194.6M146.5 196.8L146.4 193.6M147.6 196.8L147.5 194.6M148.5 198.4L148.2 185.2M150.1 197.2L149.9 188.7M150.5 197.7L150.4 195.5M152.0 198.5L151.6 175.7M153.8 199.9L153.7 195.6M154.5 199.6L154.4 195.9M154.9 200.4L154.9 196.2M154.9 201.2L154.9 198.3M156.4 200.5L156.3 190.2M156.6 201.6L156.5 194.0M157.2 201.7L157.1 199.5M158.7 201.8L158.5 189.7M158.8 202.2L158.8 200.1M160.1 202.6L160.1 199.6M160.6 202.5L160.5 199.3M160.5 203.9L160.4 199.8M160.8 204.0L160.8 199.4M162.1 204.1L162.1 200.8M162.1 204.6L162.1 200.5M163.8 204.1L163.8 201.3M163.2 205.0L163.1 200.5M166.3 205.6L166.3 201.1M166.6 206.1L166.6 203.6M166.4 206.6L166.4 203.7M166.9 206.7L166.9 203.2M167.8 207.6L167.8 205.2M168.8 206.9L168.8 203.9M168.9 207.6L168.9 203.7M169.4 207.8L169.4 192.1M169.9 208.0L169.9 198.0M170.8 208.6L170.8 204.6M171.9 208.3L171.9 205.8M172.2 208.9L172.2 206.9M172.6 209.5L172.6 206.3M172.8 210.2L172.8 207.6M173.6 209.5L173.6 205.2M174.4 210.4L174.4 205.8M175.1 210.4L175.1 206.2M176.3 210.2L176.3 207.8M177.1 210.7L177.1 208.4M176.8 212.1L176.8 207.6M182.8 213.8L182.9 209.2M182.6 214.4L182.7 210.8M183.9 214.3L184.0 209.5M184.3 214.6L184.3 211.4M185.3 215.1L185.4 211.5M185.1 216.4L185.1 213.0M186.0 215.5L186.0 213.2M186.6 216.2L186.7 213.7M187.0 216.9L187.1 212.3M188.3 216.4L188.3 214.2M188.3 217.5L188.3 215.1M189.8 216.8L190.0 204.4M190.2 217.8L190.3 215.7M190.6 219.2L190.7 216.2M191.1 219.4L191.2 214.7M191.8 220.0L191.9 217.1M192.8 219.8L193.1 206.4M193.7 219.5L193.8 216.0M193.8 220.4L194.0 216.1M195.1 220.0L195.2 216.9M196.2 220.2L196.5 212.3M196.6 220.5L196.7 214.6M196.7 221.8L196.8 219.1M197.9 221.6L198.1 214.2M198.6 221.4L198.6 219.3M200.6 223.0L200.8 218.2M200.3 223.7L200.4 221.0M201.9 223.6L202.0 221.1M202.3 224.3L202.4 221.5M203.7 224.2L203.9 219.7M203.3 225.5L203.4 221.5M204.7 225.1L204.9 220.6M204.9 225.6L205.1 221.8M205.7 225.6L205.8 222.4M205.9 226.4L206.0 221.8" stroke="#8c564b" stroke-width="1.5" fill="none"/>
<path d="M92.2 129.4h.01M92.5 133.2h.01M92.5 134.4h.01M93.1 142.2h.01M108.4 146.4h.01M108.3 143.8h.01M109.1 156.8h.01M108.5 148.1h.01M132.6 169.1h.01M132.9 176.3h.01M132.5 165.9h.01M133.1 182.5h.01M132.6 169.6h.01M182.7 206.9h.01M182.8 198.6h.01M182.8 204.4h.01M182.8 197.1h.01M182.7 207.9h.01M182.8 202.3h.01M182.8 200.5h.01M187.4 197.0h.01M187.2 205.8h.01M187.3 200.2h.01M187.3 199.8h.01M187.4 197.5h.01" stroke="#8c564b" stroke-width="1.3" stroke-linecap="square" fill="none"/>
<path d="M76.1 166.9L75.9 164.2M77.1 167.3L76.9 165.2M77.1 167.8L76.7 163.5M78.3 167.4L78.1 164.7M78.5 167.9L78.3 165.1M78.8 168.8L78.4 164.4M79.8 168.9L79.5 165.3M86.6 172.6L86.2 167.4M86.7 173.0L85.9 164.3M94.4 176.5L94.1 172.7M94.9 177.3L94.7 175.1M96.0 176.6L95.8 173.3M97.0 177.1L96.8 174.3M97.6 177.3L97.5 174.9M98.4 177.9L98.0 173.3M98.9 177.8L98.6 174.1M99.2 178.2L99.1 176.3M99.3 178.7L99.2 176.6M100.4 179.1L99.3 163.6M101.0 179.0L100.8 176.3M101.7 179.4L101.5 176.6M101.4 180.2L101.2 177.9M102.6 180.0L102.4 177.0M102.5 181.5L102.2 177.6M103.7 181.2L102.7 166.3M104.4 180.4L104.2 176.6M104.5 181.1L104.2 176.7M105.3 181.7L105.0 177.7M105.3 182.7L105.1 179.5M106.9 182.0L106.7 178.8M107.7 182.5L107.6 180.2M107.6 182.9L107.4 179.5M108.0 183.8L107.3 174.3M108.8 184.2L108.5 179.7M109.4 184.4L109.2 179.9M109.9 184.6L109.7 182.4M111.1 183.6L110.4 171.7M111.7 184.6L111.4 180.3M112.2 184.7L112.0 181.2M112.7 185.5L112.6 183.3M112.6 186.3L112.5 184.0M114.0 186.0L113.8 182.0M114.3 186.6L114.2 183.7M114.6 187.1L114.3 181.3M115.6 187.3L115.5 185.4M116.0 187.8L115.7 183.2M117.1 187.3L116.7 179.5M117.1 188.3L116.9 184.6M118.3 188.2L118.1 185.5M119.1 187.9L118.2 170.1M119.0 189.1L118.4 178.4M119.8 189.2L119.7 186.4M121.4 189.7L121.2 186.1M121.5 190.6L121.4 187.4M122.2 190.9L121.3 172.4M122.9 190.5L122.7 186.4M124.3 190.3L123.9 183.8M124.6 191.4L124.4 187.5M124.7 191.8L124.5 187.5M124.9 192.4L124.7 188.4M125.6 192.6L125.4 189.1M126.2 192.8L125.7 182.3M127.1 193.2L126.9 189.6M127.7 193.1L127.5 188.9M128.1 193.8L127.1 172.4M128.5 194.1L128.4 190.7M129.9 194.3L129.7 188.3M130.8 194.5L130.7 191.5M131.0 195.6L130.9 191.9M131.2 195.5L131.0 190.8M133.0 195.2L132.5 183.8M133.9 195.6L133.4 182.7M133.4 197.0L133.3 194.5M134.3 196.9L134.2 192.3M134.8 197.2L134.3 184.5M135.5 197.6L135.4 193.4M136.7 197.1L136.6 194.1M137.3 197.2L137.2 195.2M137.1 197.8L137.0 195.7M137.7 198.3L137.6 195.4M137.7 198.8L137.5 192.4M138.7 199.2L138.5 195.1M139.6 199.1L139.5 194.6M139.5 200.0L139.3 195.7M140.2 200.0L140.1 196.1M140.7 200.5L140.7 198.5M141.6 200.4L141.4 196.2M143.1 200.0L143.0 197.3M142.8 201.1L142.7 197.4M147.9 202.8L147.8 199.9M149.4 204.1L149.4 200.6M150.4 204.3L150.3 201.3M150.6 204.8L150.6 201.9M151.3 204.8L151.3 201.6M152.0 205.1L151.9 200.4M152.6 205.8L152.5 201.6M153.5 205.4L153.5 202.5M153.9 206.1L153.9 202.8M154.4 206.2L154.3 202.8M155.3 206.2L155.2 196.2M154.6 207.8L154.6 205.8M156.6 206.9L156.6 203.3M157.0 207.5L157.0 203.7M156.9 208.2L156.8 202.3M157.6 208.4L157.6 205.9M158.1 209.4L158.0 205.0M158.9 208.4L158.9 204.8M159.0 209.4L159.0 206.1M160.6 208.8L160.6 205.6M161.4 209.5L161.3 205.6M161.4 209.8L161.3 205.7M161.9 210.5L161.9 207.0M162.8 210.4L162.7 207.0M163.5 210.7L163.5 206.5M164.3 211.2L164.3 206.7M165.6 212.8L165.6 209.7M167.1 212.2L167.1 208.2M166.7 213.4L166.7 210.3M167.8 213.8L167.8 210.1M168.1 214.3L168.1 211.4M169.1 213.4L169.1 210.1M169.0 215.0L169.0 212.4M173.0 216.0L173.0 211.7M173.4 216.5L173.4 212.7M173.8 216.8L173.9 213.2M174.4 217.4L174.5 196.8M176.0 216.7L176.0 213.2M176.2 217.9L176.3 213.6M177.1 217.3L177.2 213.2M177.9 218.3L177.9 215.6M177.7 219.6L177.7 216.4M178.4 219.1L178.4 216.2M179.6 219.1L179.6 216.2M180.3 219.3L180.3 216.5M180.3 220.4L180.3 218.0M180.6 221.0L180.6 216.5M182.1 220.4L182.2 216.3M182.2 221.0L182.3 218.9M182.7 222.2L182.7 218.4M185.7 222.0L185.7 217.9M191.7 224.7L191.7 222.4M192.4 225.6L192.7 211.7M193.4 226.3L193.9 207.8M194.0 226.7L194.1 222.5M195.0 226.7L195.1 222.4M195.6 226.8L195.7 222.4M196.1 227.6L196.1 225.2M196.5 228.4L196.5 226.1M197.1 228.3L197.3 223.7M197.7 228.8L197.9 222.2M198.3 229.3L198.4 224.9M199.1 229.1L199.2 225.2M199.5 230.6L199.6 227.4M201.2 229.9L201.3 226.4M201.3 230.1L201.4 227.5M201.6 230.2L201.9 223.0M202.2 231.2L202.3 228.0M202.2 231.5L202.3 228.9M203.7 231.4L204.1 221.5M203.4 232.6L203.8 221.3M204.6 232.0L204.8 229.0M205.7 232.3L206.2 219.1" stroke="#9467bd" stroke-width="1.5" fill="none"/>
<path d="M76.6 162.0h.01M76.6 162.0h.01M76.7 162.8h.01M76.7 162.9h.01M76.2 158.4h.01M75.5 151.5h.01M75.2 148.2h.01M76.3 159.6h.01M75.9 155.3h.01M75.5 151.4h.01M75.9 155.3h.01M76.2 158.6h.01M77.8 159.8h.01M77.7 158.6h.01M77.6 157.9h.01M107.7 167.2h.01M106.7 151.0h.01M108.3 176.6h.01M107.6 165.9h.01M107.6 165.2h.01M121.0 166.2h.01M120.4 154.7h.01M120.2 149.3h.01M157.8 183.7h.01M157.8 187.9h.01M157.8 190.0h.01M165.5 196.7h.01M165.5 197.7h.01M165.5 198.3h.01M165.5 198.3h.01M165.6 205.8h.01M179.7 206.0h.01M180.0 177.6h.01M179.9 186.3h.01M179.7 213.1h.01M179.7 207.4h.01M179.9 186.8h.01M180.1 171.3h.01M180.8 198.2h.01M180.9 193.0h.01M180.9 192.4h.01M180.7 208.6h.01M180.6 213.5h.01M180.7 206.8h.01M199.8 220.5h.01M199.7 223.3h.01M200.6 196.0h.01M199.9 218.9h.01M200.4 200.9h.01M200.5 199.4h.01M199.7 222.7h.01M200.3 205.0h.01M204.9 198.6h.01M204.2 216.8h.01M204.9 198.4h.01M204.9 199.4h.01M204.2 218.6h.01M204.4 211.9h.01M204.2 216.7h.01M204.3 214.0h.01" stroke="#9467bd" stroke-width="1.3" stroke-linecap="square" fill="none"/>
<path d="M70.5 169.6L70.3 167.3M70.3 170.0L69.9 165.8M70.2 170.6L70.0 168.0M70.9 170.8L70.6 168.1M71.3 171.4L70.9 167.0M71.8 171.4L71.5 168.1M72.6 171.4L72.0 165.9M73.5 172.3L73.3 169.7M74.6 172.1L74.4 170.0M75.2 172.2L75.0 169.5M75.0 172.5L73.9 161.3M75.1 173.2L74.5 167.1M76.1 173.4L75.9 171.1M77.0 173.2L76.5 167.5M77.7 173.7L77.3 169.2M77.4 174.9L77.1 171.7M78.8 173.8L78.5 169.7M78.9 174.4L78.5 171.1M79.4 175.4L78.7 168.7M79.7 174.9L79.5 172.4M79.9 175.6L79.6 172.5M80.3 175.7L79.9 171.2M82.0 175.4L81.2 166.5M82.3 176.5L82.0 172.4M83.3 176.6L82.8 171.5M84.2 176.8L83.9 174.4M83.8 177.3L83.4 172.7M84.5 178.1L84.2 174.4M85.3 178.1L85.0 174.7M86.1 177.6L85.7 173.7M86.6 177.7L86.2 173.1M86.7 178.5L86.4 175.7M87.9 178.7L87.5 174.8M87.9 178.7L87.6 174.3M88.5 179.0L88.3 176.5M88.6 180.2L87.8 171.4M89.6 180.1L89.4 177.3M89.1 180.3L88.7 176.1M89.6 180.9L89.2 175.5M90.2 180.6L89.1 167.5M91.5 180.3L91.2 176.6M91.6 181.3L91.2 176.8M92.1 181.0L91.0 167.3M92.8 181.3L92.7 178.9M93.3 182.0L93.2 179.5M93.2 182.2L92.3 170.5M94.8 182.1L94.5 178.4M95.0 182.4L94.3 172.7M95.3 183.7L95.0 180.5M96.7 183.2L96.5 181.3M96.3 184.1L96.0 180.1M97.9 183.7L97.5 179.1M97.7 184.1L96.5 168.0M98.0 184.2L97.7 181.1M99.1 184.5L98.8 180.6M99.8 184.4L99.5 180.6M100.2 184.7L100.0 180.8M100.1 186.1L99.8 181.9M100.9 186.1L100.6 182.0M102.1 186.0L101.6 177.9M102.8 186.5L102.5 182.3M103.2 186.3L102.9 182.9M103.9 187.0L103.7 184.6M104.0 187.7L103.7 184.4M105.0 187.7L104.9 185.6M105.1 187.4L104.9 184.7M105.4 188.3L105.1 184.0M105.6 188.4L105.4 184.4M106.6 188.5L106.3 184.4M107.2 189.2L106.9 184.6M107.9 189.1L107.5 183.7M107.9 189.4L107.7 185.7M108.5 189.6L108.3 186.2M108.7 190.3L108.5 187.0M110.4 190.2L109.9 182.0M111.0 190.2L110.9 187.9M110.3 191.2L110.1 188.6M111.3 191.4L111.0 186.9M113.6 192.2L113.5 189.9M119.7 195.1L119.6 192.3M120.3 195.4L119.5 179.9M120.0 196.3L119.9 193.1M121.6 196.2L121.5 193.8M123.8 198.2L123.5 190.9M124.5 198.4L124.3 195.1M125.9 198.1L125.8 194.9M125.2 199.4L125.1 196.3M126.0 199.1L125.0 177.7M126.6 199.0L126.5 195.6M126.7 199.5L126.5 194.9M127.8 200.0L127.6 195.4M129.1 199.9L128.8 195.2M129.7 200.3L129.6 196.9M132.7 201.8L132.6 199.6M132.7 202.8L132.6 199.5M133.2 203.5L132.9 195.4M137.9 203.9L137.8 200.1M138.2 204.9L137.8 191.5M138.5 205.3L138.3 198.1M139.9 205.0L139.8 202.7M139.6 206.5L139.5 202.3M141.2 205.6L141.1 202.3M142.1 207.7L141.9 200.4M143.0 208.2L142.9 205.4M144.5 207.5L144.4 203.2M144.5 207.8L144.4 203.5M145.1 208.3L145.0 206.1M145.4 208.6L145.3 204.0M146.3 209.2L146.2 206.8M146.1 210.1L146.0 206.8M146.9 209.5L146.8 206.7M147.9 209.8L147.8 205.3M148.4 210.1L148.0 193.5M148.4 210.6L148.3 205.0M149.6 210.3L149.5 205.6M150.0 211.4L150.0 209.0M150.6 212.0L150.3 197.4M151.1 212.1L151.1 209.6M152.4 212.2L152.4 209.2M152.8 212.6L152.7 208.6M153.2 213.4L153.2 208.7M155.1 213.1L155.0 209.4M154.5 214.2L154.5 212.1M155.6 214.5L155.6 211.3M156.6 214.2L156.6 208.2M157.9 214.4L157.8 211.2M157.1 215.5L156.9 199.6M158.2 215.8L158.1 207.9M159.2 216.3L159.2 212.3M160.3 216.0L160.3 211.5M160.2 216.4L160.1 212.3M163.3 217.9L163.3 204.8M164.3 218.2L164.2 214.6M164.7 218.9L164.7 214.7M165.7 218.7L165.6 205.0M165.4 219.4L165.4 216.1M166.1 220.0L166.1 216.6M166.8 220.1L166.8 214.6M167.6 220.1L167.6 212.1M167.3 221.1L167.3 219.0M169.2 220.3L169.2 216.7M171.8 222.3L171.8 219.1M172.6 222.6L172.6 218.3M173.1 222.7L173.1 218.5M179.6 226.7L179.6 222.3M181.2 226.3L181.3 223.2M182.1 226.4L182.2 220.4M183.7 228.4L184.0 211.6M184.7 227.9L184.8 224.3M184.5 229.1L184.6 222.4M186.0 229.5L186.1 224.0M185.7 229.8L185.8 225.0M186.3 230.2L186.4 226.9M187.1 230.1L187.2 227.6M187.8 230.3L187.8 226.4M187.8 231.1L188.0 216.6M188.8 231.5L188.8 229.2M190.4 231.3L190.5 227.5M190.6 231.4L190.7 228.8M191.0 232.3L191.1 229.4M192.5 232.1L192.9 215.5M192.6 233.3L192.6 231.1M193.3 233.9L193.5 226.0M194.1 234.1L194.2 229.3M195.2 234.5L195.3 230.6M196.8 234.1L197.1 224.5" stroke="#d62728" stroke-width="1.5" fill="none"/>
<path d="M150.6 187.6h.01M150.8 196.5h.01M150.8 196.9h.01M150.8 198.9h.01M150.9 200.2h.01M150.9 204.1h.01M166.0 194.7h.01M166.0 194.3h.01M166.1 202.9h.01M166.1 199.2h.01M166.1 213.7h.01" stroke="#d62728" stroke-width="1.3" stroke-linecap="square" fill="none"/>
<path d="M64.0 173.7L63.7 171.2M65.0 173.1L64.5 168.5M65.9 173.2L65.6 170.5M66.4 173.4L66.1 171.3M66.6 174.3L65.4 162.5M66.9 174.2L66.2 167.5M67.2 175.2L67.0 173.1M67.2 175.8L66.7 171.2M68.1 175.1L67.7 171.9M68.2 175.6L68.0 173.5M69.1 175.6L68.7 172.2M69.4 176.3L68.5 167.4M72.9 177.7L71.6 165.3M73.4 177.8L73.2 175.4M73.8 178.1L73.4 173.6M73.9 178.6L73.7 176.1M75.5 178.3L74.0 162.7M75.4 179.5L75.0 175.6M76.4 179.4L76.1 176.8M76.6 180.3L76.3 177.0M77.6 179.4L77.3 176.2M77.1 180.2L76.8 176.9M77.8 181.0L77.5 177.2M78.8 181.1L78.5 177.8M79.3 181.5L79.0 178.3M80.1 181.3L79.3 172.0M80.0 181.8L79.7 178.9M80.8 181.4L80.4 176.6M80.9 182.3L80.5 177.8M81.8 182.7L81.0 173.4M82.2 183.1L81.6 177.0M83.5 182.2L83.0 176.2M83.2 183.4L81.6 165.6M84.1 183.8L83.8 180.3M84.6 184.2L84.2 180.0M85.6 184.0L85.3 180.4M85.2 184.9L84.9 182.1M86.0 184.6L85.6 180.3M86.4 185.7L86.1 182.4M87.8 184.9L87.4 180.8M87.5 186.5L87.2 182.7M89.1 186.0L88.2 174.9M88.9 186.8L88.6 183.9M90.1 186.9L89.9 184.2M90.9 186.7L90.5 182.2M90.4 187.6L89.6 178.3M91.3 187.1L91.0 184.1M92.2 187.3L91.6 180.2M91.5 188.4L91.1 183.1M92.4 188.5L92.1 184.2M92.9 189.1L92.1 179.5M93.6 189.0L93.2 184.4M94.4 189.2L94.0 184.2M94.2 189.9L94.0 186.9M94.8 189.9L94.4 185.0M96.2 189.7L95.9 185.5M95.7 190.6L95.3 185.7M96.3 190.4L95.9 185.4M96.8 191.0L96.4 186.4M98.0 190.3L97.0 177.0M98.4 190.7L98.1 186.7M99.3 191.0L98.9 186.4M99.5 191.3L99.1 186.1M100.7 191.8L100.2 184.8M101.0 191.5L100.7 187.2M101.3 192.1L101.1 189.0M101.8 192.2L101.3 185.0M101.8 192.9L101.5 187.6M102.1 192.9L101.8 188.7M103.2 193.0L103.0 189.6M103.7 193.4L103.5 189.8M108.0 195.6L107.7 190.7M107.8 195.8L107.5 190.2M109.1 196.1L108.7 190.3M109.1 197.0L108.5 186.4M109.8 196.5L109.5 192.2M110.8 196.5L110.5 191.5M111.2 196.9L110.9 192.7M111.9 197.6L111.2 185.9M112.2 198.1L111.9 192.5M113.1 198.0L112.9 193.7M112.9 199.5L112.7 195.1M113.5 199.3L113.2 193.5M114.4 199.2L114.2 195.1M114.5 200.0L113.7 186.2M119.2 201.5L118.9 195.6M119.0 202.2L118.8 197.0M119.7 203.3L119.5 199.5M120.5 203.3L120.2 198.0M121.8 202.8L121.5 197.3M121.9 202.9L121.7 197.6M122.6 203.2L122.3 197.2M123.3 203.4L123.0 197.8M122.9 204.3L122.2 189.5M123.7 204.5L122.9 189.4M124.9 204.2L124.6 198.1M125.4 204.6L125.1 199.4M125.8 205.1L125.5 199.2M125.6 205.5L125.4 201.5M125.9 206.3L125.7 201.7M126.6 206.0L126.4 201.1M127.7 206.0L127.5 202.1M127.7 206.7L127.5 200.9M128.7 206.6L128.4 200.9M128.8 206.9L128.5 201.1M129.2 207.6L129.0 203.0M130.1 207.2L129.4 191.3M129.9 208.7L129.7 202.5M130.7 208.3L130.4 201.6M131.1 208.1L130.9 204.1M132.3 207.9L132.2 203.7M132.1 209.5L131.9 204.1M133.5 208.9L133.2 203.0M133.7 209.5L133.6 205.6M134.3 209.9L134.1 205.8M135.3 209.9L135.1 204.8M135.8 210.4L135.6 205.8M136.8 210.3L136.6 204.5M136.3 211.6L136.1 207.3M137.9 211.2L137.7 206.8M138.0 211.6L137.9 207.4M139.1 212.3L138.9 206.9M140.0 211.8L139.2 185.8M140.4 212.8L140.2 207.7M141.4 212.8L141.3 209.0M141.8 213.1L141.6 206.8M141.7 214.4L141.6 209.9M142.0 214.3L141.9 210.2M143.5 213.4L143.4 209.4M143.1 214.6L143.0 209.8M143.6 214.2L143.5 209.4M144.2 215.5L144.1 210.3M145.6 214.7L145.4 208.7M145.8 215.7L145.7 210.3M146.9 216.0L146.8 211.4M146.8 215.9L146.7 211.2M147.2 216.3L147.1 210.4M147.4 217.1L147.3 211.4M148.9 216.5L148.8 211.3M148.8 218.1L148.5 205.4M149.7 218.7L149.5 212.9M151.2 217.6L151.0 211.3M151.5 218.3L151.3 208.0M152.3 218.5L152.0 203.5M152.8 219.6L152.7 214.5M153.7 219.4L153.6 213.0M153.0 220.5L152.8 206.8M154.5 219.3L154.5 214.1M155.1 220.1L155.1 215.0M155.0 220.5L155.0 215.3M156.1 221.0L156.0 214.4M156.8 221.5L156.7 212.9M157.3 221.7L157.2 217.0M158.2 222.0L158.1 215.5M158.8 221.8L158.7 216.5M159.2 223.0L159.1 216.5M159.6 223.2L159.5 218.9M160.4 223.5L160.4 218.8M161.7 223.0L161.7 216.9M162.4 223.7L162.4 218.9M162.2 224.1L162.1 219.3M163.2 224.1L163.1 219.3M163.8 224.6L163.8 218.8M163.2 225.8L163.2 216.9M164.6 225.6L164.5 219.0M165.4 225.9L165.3 219.8M166.1 226.0L166.1 218.8M165.9 226.9L165.9 220.5M167.0 226.3L167.0 220.4M167.9 226.9L167.9 221.1M167.9 227.5L167.8 221.6M168.5 227.5L168.5 222.1M169.7 227.8L169.7 222.9M169.5 228.7L169.4 217.8M170.2 228.6L170.2 215.9M170.8 229.6L170.9 220.2M171.7 229.4L171.7 222.8M172.4 229.5L172.4 223.7M173.2 230.1L173.2 225.6M174.3 230.6L174.3 223.6M174.2 231.1L174.3 226.4M175.9 230.6L175.9 224.0M176.3 231.6L176.4 217.8M177.5 231.9L177.5 226.8M178.4 232.0L178.4 227.2M179.2 232.4L179.2 226.1M179.6 233.0L179.6 227.0M179.9 232.6L179.9 225.8M180.5 233.6L180.6 228.0M180.6 234.9L180.7 229.8M181.8 234.5L181.9 228.5M182.6 233.9L182.7 228.6M182.5 235.8L182.5 229.9M184.2 234.7L184.3 229.6M184.2 235.7L184.3 228.8M184.8 236.2L184.9 229.5M185.5 236.7L185.7 228.3M187.0 236.4L187.2 229.0M186.5 237.7L186.6 230.0M188.1 236.7L188.2 230.2M188.0 237.8L188.1 231.6M189.1 238.0L189.3 230.6M189.6 238.3L190.1 213.7M189.6 239.8L189.7 233.7M190.8 238.7L190.9 232.8M191.6 239.2L191.7 234.1M192.3 240.0L193.0 209.2M192.5 240.5L192.7 235.0M193.0 241.1L193.1 235.6M194.2 240.6L194.8 220.7M195.3 241.2L195.5 234.9M195.7 241.9L195.9 234.4M196.8 241.6L197.0 234.8" stroke="#2ca02c" stroke-width="1.5" fill="none"/>
<path d="M74.6 161.3h.01M75.5 170.2h.01M75.1 165.8h.01M75.7 172.1h.01M74.8 162.7h.01M74.4 158.8h.01M74.6 160.4h.01M74.4 159.3h.01M78.3 171.0h.01M78.6 174.5h.01M77.7 164.8h.01M78.4 172.0h.01M77.4 161.8h.01M78.1 169.0h.01M77.7 164.1h.01M111.6 151.1h.01M113.9 189.8h.01M113.2 178.6h.01M112.4 164.4h.01M111.8 154.3h.01M112.0 157.1h.01M119.9 192.0h.01M119.9 192.4h.01M120.0 194.0h.01M120.0 194.4h.01M119.9 193.0h.01M120.0 194.0h.01M119.9 192.2h.01M119.9 192.0h.01M146.7 196.9h.01M146.7 193.9h.01M146.2 176.0h.01M146.7 195.9h.01M146.9 203.6h.01M146.7 194.7h.01M151.3 166.6h.01M151.6 179.5h.01M151.9 197.9h.01M151.3 166.7h.01M151.3 166.3h.01M164.4 200.8h.01M164.4 203.6h.01M164.5 212.4h.01M164.5 206.6h.01M164.5 211.7h.01M164.5 214.0h.01M164.5 210.3h.01M164.5 215.7h.01M174.5 184.1h.01M174.4 204.7h.01M174.3 217.4h.01M174.4 195.8h.01M174.4 197.9h.01M174.4 199.7h.01M174.5 185.0h.01M181.0 204.0h.01M180.8 217.8h.01M180.8 222.4h.01M180.7 226.5h.01M182.0 223.8h.01M182.0 223.9h.01M182.0 223.3h.01M182.0 222.9h.01M182.0 225.1h.01M182.0 224.6h.01M182.9 214.6h.01M182.7 224.2h.01M182.8 221.9h.01M182.8 223.3h.01M182.8 219.0h.01M182.8 220.6h.01M182.7 224.4h.01M190.9 180.3h.01M190.5 195.9h.01M190.5 197.8h.01" stroke="#2ca02c" stroke-width="1.3" stroke-linecap="square" fill="none"/>
<path d="M59.4 177.0L59.0 173.9M60.4 178.0L60.1 175.2M60.7 178.0L60.3 174.2M61.8 178.1L61.3 173.4M63.2 179.3L62.9 176.6M63.4 179.0L63.1 176.1M63.4 179.6L62.6 172.4M64.9 179.7L64.6 176.7M65.5 179.8L65.2 177.4M65.8 180.2L65.0 172.9M66.1 180.8L65.8 177.6M66.2 180.8L65.8 177.0M66.8 181.7L66.6 179.5M67.5 181.6L66.7 173.9M68.7 181.6L68.3 177.3M68.6 182.4L68.3 179.1M69.1 182.3L68.7 179.3M70.4 182.4L70.0 179.0M69.7 183.0L69.4 179.7M71.5 182.6L71.1 179.3M71.6 183.5L70.5 171.8M72.2 183.1L72.0 180.6M72.6 183.8L72.2 179.7M73.2 184.0L72.8 179.9M73.8 185.0L73.3 180.6M74.6 184.3L74.2 179.9M77.1 186.1L76.7 181.8M76.8 187.0L76.2 181.0M78.2 186.4L77.8 182.0M78.4 186.7L77.9 181.8M78.1 187.2L77.2 177.8M78.4 187.9L77.4 177.2M79.2 187.3L78.7 182.4M79.9 187.7L77.8 165.6M80.7 187.8L80.4 185.1M80.7 188.9L80.5 186.1M81.7 188.8L81.2 184.2M81.9 189.0L81.6 185.0M81.8 189.9L81.4 185.5M83.8 188.8L83.4 184.5M83.7 190.4L82.9 181.1M85.0 190.0L84.6 184.8M85.0 190.2L84.5 185.2M84.9 191.1L84.4 186.3M86.2 191.2L85.6 184.8M86.6 191.4L86.2 187.2M87.1 191.9L86.6 186.6M87.8 192.7L87.4 188.4M88.0 192.4L87.6 187.6M89.2 192.7L88.9 189.2M89.7 192.8L89.4 189.4M89.6 194.1L88.6 181.8M90.2 194.0L89.9 190.5M91.2 193.9L90.3 182.8M91.8 194.0L91.1 185.5M91.5 194.8L91.2 191.7M91.9 194.6L91.6 190.6M93.1 194.7L92.8 191.6M94.0 194.7L93.6 189.7M93.8 195.9L93.6 193.0M95.3 195.0L94.8 189.6M95.1 196.0L94.7 190.8M96.1 196.0L95.2 183.8M95.7 196.9L95.4 192.7M97.3 197.0L96.9 192.6M97.3 197.2L96.3 183.2M98.6 197.7L98.2 192.5M98.2 198.4L97.9 194.7M99.5 198.0L99.2 194.9M99.4 198.6L98.2 182.9M102.0 199.3L101.6 194.1M101.7 199.8L101.5 196.8M102.5 200.8L101.7 190.1M103.2 200.6L102.3 187.3M104.2 200.6L103.8 195.5M104.3 201.3L103.9 195.6M104.4 201.5L104.0 196.1M105.7 201.1L105.4 196.0M106.0 201.5L105.6 195.9M106.6 201.8L105.9 191.3M106.8 202.3L106.2 192.5M108.3 202.1L107.2 184.8M108.6 203.1L108.3 198.9M109.2 202.6L108.6 194.3M110.3 203.3L110.0 197.9M110.8 203.4L110.6 199.4M111.3 203.6L111.0 200.0M111.5 204.3L111.1 198.2M112.3 205.0L111.8 197.0M113.2 205.6L113.0 201.4M113.9 205.3L113.6 199.8M113.5 206.7L113.2 201.4M114.3 206.6L114.1 202.2M115.3 207.3L115.0 202.9M116.3 207.1L116.0 202.9M116.6 207.7L116.3 202.8M117.8 207.4L117.6 202.9M118.0 207.9L117.7 203.0M118.6 208.0L118.3 202.9M119.5 208.4L119.3 204.2M119.6 208.9L119.3 204.3M120.4 209.8L120.0 202.6M120.2 209.9L120.0 204.5M121.1 210.2L120.8 204.7M121.5 210.1L121.2 205.5M122.8 210.4L122.6 206.3M123.1 211.4L122.9 207.7M123.6 211.6L123.3 206.3M125.4 211.0L125.2 206.7M125.2 211.8L124.8 202.6M126.5 211.9L126.3 207.4M129.9 213.9L129.6 207.5M130.7 214.0L130.5 208.0M131.4 214.3L130.9 202.0M132.8 215.4L132.5 209.6M132.5 216.1L132.2 210.2M133.2 216.2L133.0 210.3M134.9 216.3L134.5 206.4M134.5 217.9L134.3 213.4M135.7 216.8L135.5 212.8M135.8 217.7L135.0 194.6M136.2 218.7L136.0 214.8M137.2 219.0L136.7 205.7M138.7 218.9L138.6 214.1M138.9 219.5L138.8 214.7M140.6 219.1L140.4 213.2M140.9 219.9L140.8 215.4M142.1 219.6L142.0 215.4M142.9 220.1L142.8 215.7M142.9 221.1L142.8 215.5M143.4 222.0L143.2 215.2M144.7 221.7L144.6 216.2M144.8 222.2L144.7 217.2M144.8 223.0L144.7 218.1M145.7 223.5L145.6 218.7M146.4 223.1L146.3 217.0M147.5 223.2L147.3 217.6M147.9 223.9L147.6 212.8M149.1 223.9L148.7 205.7M149.3 223.9L149.1 217.8M150.1 224.8L150.0 220.1M150.0 225.4L149.9 219.7M151.0 225.7L150.9 220.5M151.2 226.5L151.1 221.8M153.0 226.0L152.8 215.2M152.8 226.7L152.7 221.9M154.7 226.5L154.6 221.1M154.3 228.2L154.2 221.4M155.7 227.3L155.6 220.9M156.1 227.8L156.0 220.8M156.5 229.3L156.4 225.0M157.6 228.5L157.4 214.7M158.7 228.3L158.6 221.4M158.1 229.8L158.0 223.7M159.6 229.5L159.5 223.1M160.1 229.9L160.1 223.7M160.2 231.1L160.1 225.4M161.1 230.5L161.1 223.9M161.3 231.8L161.2 225.3M162.5 231.3L162.5 226.6M163.0 232.1L163.0 226.3M163.8 232.3L163.7 227.3M164.0 232.8L163.9 225.6M164.2 233.6L164.1 228.2M164.8 233.3L164.8 228.6M165.4 233.6L165.4 223.7M166.4 233.4L166.4 228.2M166.4 233.8L166.4 228.2M166.7 234.3L166.7 227.8M167.7 234.4L167.7 229.7M168.4 234.4L168.4 228.9M168.9 234.9L168.8 229.2M169.1 236.1L169.1 231.1M170.6 235.6L170.6 228.7M170.3 236.9L170.3 218.3M172.3 235.9L172.3 231.0M172.8 236.0L172.8 231.1M172.6 237.8L172.6 231.4M173.8 238.1L173.8 232.2M174.0 237.8L174.0 231.6M175.6 238.2L175.6 232.9M176.5 237.9L176.6 233.0M182.5 241.4L182.6 234.3M182.5 242.6L182.6 235.4M183.8 242.3L183.9 235.4M184.2 243.2L184.3 236.9M184.5 243.9L184.7 233.3M186.1 243.0L186.2 237.2M185.9 245.0L186.0 237.3M187.6 243.7L187.8 237.6M188.1 244.7L188.2 237.5M188.3 245.4L188.4 238.6M188.6 245.9L188.7 238.9M190.2 245.4L190.3 240.1M191.1 245.8L191.2 240.2M191.6 246.7L191.8 240.3" stroke="#ff7f0e" stroke-width="1.5" fill="none"/>
<path d="M75.7 175.8h.01M74.8 166.2h.01M75.4 172.5h.01M75.1 170.2h.01M75.7 176.2h.01M74.9 167.3h.01M75.4 172.9h.01M97.7 173.6h.01M98.7 187.4h.01M98.1 180.1h.01M98.0 178.3h.01M97.8 176.0h.01M134.1 196.4h.01M134.1 196.4h.01M133.5 179.0h.01M134.3 200.9h.01M133.5 179.0h.01M144.4 207.6h.01M144.5 208.9h.01M144.5 211.5h.01M144.6 212.8h.01M146.8 178.4h.01M146.9 183.8h.01M147.2 194.1h.01M147.4 203.4h.01M147.5 205.7h.01" stroke="#ff7f0e" stroke-width="1.3" stroke-linecap="square" fill="none"/>
<path d="M52.7 179.6L52.2 175.1M53.2 179.5L52.7 174.7M54.8 179.5L54.3 175.2M54.9 179.5L54.5 175.4M55.2 180.0L54.6 175.2M55.0 180.9L54.5 176.3M56.7 180.6L56.0 175.1M57.3 181.9L56.7 177.1M58.1 181.4L56.9 171.1M59.0 181.5L58.5 176.7M58.7 182.6L58.1 177.5M59.5 182.9L58.9 177.4M60.0 182.5L59.3 176.9M61.0 182.4L59.9 172.8M61.3 183.1L60.7 177.6M62.1 182.9L61.2 174.6M61.7 184.2L61.1 178.3M63.1 184.3L62.6 179.9M63.8 183.9L63.2 178.4M63.4 185.3L62.6 178.0M64.3 185.4L63.7 179.8M64.6 185.2L64.1 180.8M65.2 185.7L64.4 178.7M65.7 185.5L65.2 181.0M66.4 185.8L65.9 181.4M67.2 186.3L66.6 180.7M67.8 186.0L67.1 180.0M68.0 186.2L67.5 181.0M68.6 186.9L68.1 182.2M68.8 186.8L68.2 181.3M69.8 187.0L69.2 180.9M69.6 188.2L69.0 182.2M69.7 188.4L69.2 183.5M70.8 188.5L70.2 183.3M70.9 189.2L70.3 183.7M71.8 189.7L71.3 184.6M72.0 189.7L71.5 184.5M74.0 189.7L73.4 183.7M74.1 189.8L73.6 184.9M75.0 190.4L74.5 185.2M75.8 190.9L75.3 186.0M76.2 191.2L75.8 186.4M77.2 191.0L76.3 181.9M76.9 192.6L76.4 187.5M78.3 192.3L77.8 186.8M79.5 192.8L78.9 187.0M79.3 193.0L78.7 186.8M79.6 193.5L79.0 187.7M80.0 194.5L79.5 189.2M81.7 193.9L81.2 188.2M81.8 194.7L81.3 189.1M82.5 194.8L82.0 189.1M83.0 195.0L82.5 189.6M83.9 195.4L83.4 189.8M83.6 195.7L83.1 190.2M84.9 195.3L84.4 189.4M85.6 195.7L85.0 189.2M86.0 196.9L85.6 191.7M86.8 197.0L85.9 186.2M86.9 197.4L86.3 191.5M87.1 198.1L86.6 192.4M88.6 197.9L88.1 192.2M88.2 198.0L87.6 191.3M89.1 198.2L88.2 187.8M90.3 198.1L89.8 191.6M91.0 198.9L90.5 192.3M90.5 199.4L90.1 194.1M91.1 199.7L90.6 193.4M91.3 200.3L90.7 192.5M92.7 200.1L92.3 194.6M93.9 200.0L93.4 193.4M93.6 200.8L93.0 193.9M94.4 200.9L93.9 194.8M94.4 201.3L93.9 194.4M95.9 201.0L95.4 195.0M95.9 201.9L95.4 195.8M96.4 202.7L95.9 195.9M98.0 202.2L97.5 195.5M97.5 203.3L97.1 197.4M98.2 203.9L97.7 197.0M99.3 203.7L98.8 197.1M100.3 203.7L99.8 197.0M100.1 204.4L99.7 198.4M100.4 205.1L99.9 198.3M101.6 205.3L101.1 198.3M102.2 205.1L101.7 198.5M103.5 205.3L102.8 195.5M103.7 206.2L103.2 199.7M104.1 206.4L103.7 200.5M104.8 207.0L104.4 200.4M105.8 207.2L105.4 200.6M106.7 207.7L106.3 201.6M107.3 207.2L106.8 199.8M108.2 207.4L107.7 200.1M108.1 208.1L107.6 200.7M108.9 208.9L108.4 201.9M109.0 209.3L108.6 203.3M110.1 209.1L109.7 202.0M111.1 209.6L110.7 203.3M111.4 209.5L111.1 203.2M111.7 210.0L111.3 202.5M111.6 210.6L111.2 203.7M112.0 211.1L111.6 204.2M113.3 211.1L112.9 204.6M112.7 211.5L112.2 204.6M114.5 210.9L114.0 203.3M114.2 211.9L113.8 204.8M117.2 214.5L116.8 208.3M119.0 213.4L118.5 206.0M119.3 214.5L118.9 207.5M119.7 215.3L118.7 197.8M121.2 214.3L120.8 206.4M121.1 215.9L120.8 209.2M122.3 215.4L121.9 208.2M121.9 216.1L121.5 208.7M123.3 216.1L122.9 208.6M123.4 216.6L123.1 209.4M124.3 216.9L124.0 210.5M124.3 218.2L124.0 211.7M125.5 217.3L125.2 209.6M126.5 217.8L126.2 209.9M126.5 218.1L126.2 211.4M127.3 218.5L126.7 205.8M127.1 219.5L126.8 212.1M127.6 219.2L127.2 211.1M128.4 220.1L128.1 213.1M128.6 219.6L128.3 212.8M130.4 219.9L130.0 211.9M130.9 220.0L130.6 213.3M130.6 221.0L130.3 213.6M131.6 221.7L131.3 214.2M132.1 221.4L131.7 213.1M133.2 222.0L132.9 214.7M134.8 222.4L134.5 213.5M135.3 223.2L135.0 215.2M135.9 223.6L135.6 216.7M136.8 223.2L136.6 216.4M137.2 223.7L136.9 216.1M137.1 224.7L136.8 216.2M138.0 225.5L137.8 218.2M139.4 225.1L139.2 217.8M139.8 225.0L139.5 217.2M140.2 225.8L139.9 218.3M140.2 226.3L140.0 219.0M141.2 227.0L140.9 218.7M142.5 226.6L142.2 216.3M143.0 226.5L142.8 218.8M143.6 227.9L143.2 215.0M144.4 227.9L144.2 220.6M144.9 227.7L144.7 220.5M145.9 228.1L145.7 220.3M145.2 229.4L144.3 197.3M146.3 228.8L146.1 220.6M147.5 228.7L147.3 220.1M147.0 229.7L146.9 222.5M148.5 229.0L148.3 221.6M148.8 229.5L148.6 221.4M148.9 230.6L148.7 221.9M149.7 230.5L149.2 207.7M150.4 230.9L150.2 222.4M151.6 230.9L151.4 220.1M151.3 231.8L151.1 223.1M152.9 231.7L152.7 223.7M152.9 232.9L152.7 224.8M154.3 233.0L153.9 214.5M155.2 233.3L155.0 225.2M155.8 233.4L155.7 224.4M155.8 234.4L155.7 226.1M157.1 233.9L157.0 225.5M157.5 234.4L157.4 226.6M158.4 234.6L158.3 225.5M158.3 236.1L158.1 227.2M158.8 236.6L158.6 225.6M159.6 236.9L159.5 228.8M161.0 236.5L160.9 223.9M161.8 236.9L161.7 224.3M162.2 236.9L162.2 228.1M162.0 237.7L161.9 228.5M163.5 237.0L163.5 228.9M163.2 238.1L163.1 229.5M164.0 238.5L164.0 230.2M164.3 239.8L164.2 232.1M165.7 239.1L165.7 230.4M166.8 239.0L166.8 229.8M166.6 239.7L166.6 230.8M169.6 242.4L169.6 233.4M170.7 242.0L170.7 233.6M171.3 242.3L171.3 233.5M171.9 242.0L171.9 233.0M172.1 243.2L172.1 235.1M173.2 243.1L173.2 233.6M173.2 243.9L173.2 234.4M173.5 244.7L173.5 236.5M174.8 244.1L174.8 234.6M175.6 243.9L175.7 235.5M176.6 244.4L176.6 235.4M177.1 245.3L177.2 237.3M177.6 246.0L177.6 236.9M178.4 246.5L178.5 234.1M179.0 246.4L179.1 238.0M179.1 247.1L179.2 238.7M180.1 247.3L180.2 239.2M181.0 247.7L181.2 231.3M181.2 248.7L181.3 238.9M182.4 248.1L182.5 239.6M183.3 249.1L183.4 240.3M183.8 249.2L183.9 239.3M184.9 248.6L185.0 239.4M184.9 250.1L185.1 240.5M185.9 250.6L186.1 240.8" stroke="#1f77b4" stroke-width="1.5" fill="none"/>
<path d="M143.9 209.1h.01M144.0 214.5h.01M143.8 206.3h.01M143.9 212.2h.01M143.8 205.1h.01M143.5 197.5h.01M151.2 213.1h.01M151.3 216.1h.01M151.2 214.7h.01M151.2 210.1h.01" stroke="#1f77b4" stroke-width="1.3" stroke-linecap="square" fill="none"/>
<path d="M86.3 27.5V27.9M87.3 35.0v.5M87.3 37.3v.5M87.3 39.6v.5M87.3 41.9v.5M87.3 44.2v.5M87.3 46.5v.5M88.7 51.0V51.5M90.0 65.5V66.0M90.5 72.5V73.0M91.4 80.5V81.0M92.6 97.0v.5M92.6 99.4v.5M92.6 101.8v.5M92.6 104.2v.5M92.6 106.6v.5M92.6 109.0v.5M133.0 67.5V68.0M133.7 92.5V93.0M134.4 104.0V106.0" stroke="#7f7f7f" stroke-width="1.3" stroke-linecap="square" fill="none"/>
<path d="M130.8 84.2V84.6M198.3 102.5v.6M198.3 105.3v.6M198.3 108.1v.6M198.3 110.9v.6M198.3 113.8v.6M198.3 116.6v.6M198.3 119.4v.6M198.3 122.2v.6M198.3 125.0v.6M266.3 79.5V80.0M265.5 87.5V88.0M267.0 97.5v.5M267.0 100.0v.5M267.0 102.5v.5M267.0 105.0v.5M267.0 107.5v.5M267.0 110.0v.5M263.0 110.0v.6M263.0 113.1v.6M263.0 116.2v.6M263.0 119.4v.6M263.0 122.5v.6M186.3 111.0v.6M186.3 113.8v.6M186.3 116.6v.6M186.3 119.4v.6M186.3 122.2v.6M186.3 125.0v.6M199.5 100.0v.6M199.5 102.9v.6M199.5 105.8v.6M199.5 108.8v.6M199.5 111.7v.6M199.5 114.6v.6M199.5 117.5v.6" stroke="#17becf" stroke-width="1.3" stroke-linecap="square" fill="none"/>
<path d="M163.0 77.0V77.5M163.5 100.5V101.0M163.6 113.0v.5M163.6 117.0v.5M62.5 127.5v.6M62.5 130.4v.6M62.5 133.3v.6M62.5 136.2v.6M62.5 139.2v.6M62.5 142.1v.6M62.5 145.0v.6M153.2 107.5v.6M153.2 110.4v.6M153.2 113.3v.6M153.2 116.2v.6M153.2 119.2v.6M153.2 122.1v.6M153.2 125.0v.6" stroke="#2ca02c" stroke-width="1.3" stroke-linecap="square" fill="none"/>
<path d="M169.5 87.5V90.0M169.5 95.5V97.5M112.5 126.0v.6M112.5 128.8v.6M112.5 131.5v.6M112.5 134.2v.6M112.5 137.0v.6M128.0 122.5v.5M128.0 125.0v.5M128.0 127.5v.5M142.5 120.0v.6M142.5 123.3v.6M142.5 126.7v.6M142.5 130.0v.6M241.3 55.5V56.0M240.8 61.2V61.7M239.5 77.5V78.0M238.8 85.0V85.5M238.0 92.5V93.0M237.5 100.0v.5M237.5 102.5v.5M237.5 105.0v.5M237.5 107.5v.5M237.5 110.0v.5M237.5 112.5v.5M237.5 115.0v.5M237.5 117.5v.5" stroke="#1f77b4" stroke-width="1.3" stroke-linecap="square" fill="none"/>
<path d="M179.5 87.0V88.0M179.5 94.0V95.0M179.6 107.0V109.0M206.3 32.5v.5M206.3 35.2v.5M206.3 37.8v.5M206.3 40.5v.5M206.3 43.2v.5M206.3 45.8v.5M206.3 48.5v.5M204.7 79.5v.5M204.7 81.8v.5M204.7 84.1v.5M204.7 86.4v.5M204.7 88.7v.5M204.7 91.0v.5M211.3 76.3V76.8M214.5 80.0V80.5M213.8 88.7V89.2M210.5 96.2V96.7M221.3 98.7V99.2M220.0 112.5v.6M220.0 117.5v.6M179.5 87.5V88.0" stroke="#bcbd22" stroke-width="1.3" stroke-linecap="square" fill="none"/>
<path d="M200.0 43.7V44.2M200.0 52.5V53.0M199.6 67.0V67.5M199.6 74.5V75.0M198.8 95.0v.6M198.8 97.7v.6M198.8 100.3v.6M198.8 103.0v.6M135.5 118.7v.6M135.5 121.4v.6M135.5 124.0v.6M135.5 126.7v.6M135.5 129.3v.6M135.5 132.0v.6M258.0 67.0V67.5M257.0 77.5v.6M257.0 82.5v.6M256.3 88.7V89.2M254.5 106.0v.6M254.5 109.0v.6M254.5 112.0v.6M254.5 115.0v.6M198.3 95.0v.6M198.3 97.8v.6M198.3 100.6v.6M198.3 103.4v.6M198.3 106.2v.6M198.3 109.1v.6M198.3 111.9v.6M198.3 114.7v.6M198.3 117.5v.6" stroke="#e377c2" stroke-width="1.3" stroke-linecap="square" fill="none"/>
<path d="M120.0 115.0v.6M120.0 117.8v.6M120.0 120.7v.6M120.0 123.5v.6M120.0 126.3v.6M120.0 129.2v.6M120.0 132.0v.6M164.3 115.0v.6M164.3 118.3v.6M164.3 121.7v.6M164.3 125.0v.6M222.0 107.5V108.0M195.0 105.0v.6M195.0 110.0v.6M280.4 141.8v.6M280.4 147.0v.6M278.7 155.2v.5M278.7 158.1v.5M278.7 161.0v.5" stroke="#ff7f0e" stroke-width="1.3" stroke-linecap="square" fill="none"/>
<path d="M259.0 2.0V2.5M256.3 36.2v.5M256.3 39.1v.5M256.3 42.1v.5M256.3 45.0v.5M254.5 57.0V58.0M249.5 115.0V115.5" stroke="#d62728" stroke-width="1.3" stroke-linecap="square" fill="none"/>
<path d="M28.98 24.03L48.38 179.26L188.03 254.42L285.72 157.87" stroke="#333" stroke-width="0.8" fill="none"/>
<path d="M45.08 179.26H48.38M41.02 146.75H44.32M36.68 112.00H39.98M32.02 74.76H35.32M27.02 34.76H30.32" stroke="#333" stroke-width="0.7" fill="none"/>
<text x="41.10" y="181.90" font-size="8.3" text-anchor="end" fill="#333">0</text>
<text x="38.20" y="151.10" font-size="8.3" text-anchor="end" fill="#333">20</text>
<text x="33.20" y="115.20" font-size="8.3" text-anchor="end" fill="#333">40</text>
<text x="28.90" y="78.50" font-size="8.3" text-anchor="end" fill="#333">60</text>
<text x="24.00" y="36.80" font-size="8.3" text-anchor="end" fill="#333">80</text>
<path d="M207.52 235.16l4.2 0.3M229.81 213.13l4.2 0.3M250.20 192.98l4.2 0.3M268.92 174.48l4.2 0.3" stroke="#333" stroke-width="0.7" fill="none"/>
<text x="217.30" y="239.80" font-size="8.3" text-anchor="middle" fill="#333">5</text>
<text x="241.60" y="216.30" font-size="8.3" text-anchor="middle" fill="#333">10</text>
<text x="261.40" y="195.60" font-size="8.3" text-anchor="middle" fill="#333">15</text>
<text x="280.20" y="178.40" font-size="8.3" text-anchor="middle" fill="#333">20</text>
<text x="93.65" y="226.57" font-size="7.5" text-anchor="middle" fill="#333" transform="rotate(32.6 93.65 226.57)">Protein</text>
<text x="257.48" y="216.95" font-size="7.6" text-anchor="middle" fill="#333" transform="rotate(132.5 257.48 216.95)">Chromosome</text>
<text x="11.2" y="105.6" font-size="8.4" fill="#222" text-anchor="middle" transform="rotate(81 11.2 105.6) translate(0 2.9)">−log<tspan font-size="5.8" dy="1.8">10</tspan><tspan dy="-1.8">(</tspan><tspan font-style="italic">P</tspan>)</text>
<text x="350.80" y="216.50" font-size="6.3" text-anchor="end" fill="#333" textLength="3.10" lengthAdjust="spacingAndGlyphs">1</text>
<text x="350.80" y="206.84" font-size="6.3" text-anchor="end" fill="#333" textLength="3.10" lengthAdjust="spacingAndGlyphs">2</text>
<text x="350.80" y="197.18" font-size="6.3" text-anchor="end" fill="#333" textLength="3.10" lengthAdjust="spacingAndGlyphs">3</text>
<text x="350.80" y="187.51" font-size="6.3" text-anchor="end" fill="#333" textLength="3.10" lengthAdjust="spacingAndGlyphs">4</text>
<text x="350.80" y="177.85" font-size="6.3" text-anchor="end" fill="#333" textLength="3.10" lengthAdjust="spacingAndGlyphs">5</text>
<text x="350.80" y="168.19" font-size="6.3" text-anchor="end" fill="#333" textLength="3.10" lengthAdjust="spacingAndGlyphs">6</text>
<text x="350.80" y="158.53" font-size="6.3" text-anchor="end" fill="#333" textLength="3.10" lengthAdjust="spacingAndGlyphs">7</text>
<text x="350.80" y="148.87" font-size="6.3" text-anchor="end" fill="#333" textLength="3.10" lengthAdjust="spacingAndGlyphs">8</text>
<text x="350.80" y="139.20" font-size="6.3" text-anchor="end" fill="#333" textLength="3.10" lengthAdjust="spacingAndGlyphs">9</text>
<text x="350.80" y="129.54" font-size="6.3" text-anchor="end" fill="#333" textLength="6.10" lengthAdjust="spacingAndGlyphs">10</text>
<text x="350.80" y="119.88" font-size="6.3" text-anchor="end" fill="#333" textLength="6.10" lengthAdjust="spacingAndGlyphs">11</text>
<text x="350.80" y="110.22" font-size="6.3" text-anchor="end" fill="#333" textLength="6.10" lengthAdjust="spacingAndGlyphs">12</text>
<text x="350.80" y="100.56" font-size="6.3" text-anchor="end" fill="#333" textLength="6.10" lengthAdjust="spacingAndGlyphs">13</text>
<text x="350.80" y="90.89" font-size="6.3" text-anchor="end" fill="#333" textLength="6.10" lengthAdjust="spacingAndGlyphs">14</text>
<text x="350.80" y="81.23" font-size="6.3" text-anchor="end" fill="#333" textLength="6.10" lengthAdjust="spacingAndGlyphs">15</text>
<text x="350.80" y="71.57" font-size="6.3" text-anchor="end" fill="#333" textLength="6.10" lengthAdjust="spacingAndGlyphs">16</text>
<text x="350.80" y="61.91" font-size="6.3" text-anchor="end" fill="#333" textLength="6.10" lengthAdjust="spacingAndGlyphs">17</text>
<text x="350.80" y="52.25" font-size="6.3" text-anchor="end" fill="#333" textLength="6.10" lengthAdjust="spacingAndGlyphs">18</text>
<text x="350.80" y="42.58" font-size="6.3" text-anchor="end" fill="#333" textLength="6.10" lengthAdjust="spacingAndGlyphs">19</text>
<text x="350.80" y="32.92" font-size="6.3" text-anchor="end" fill="#333" textLength="6.10" lengthAdjust="spacingAndGlyphs">20</text>
<text x="350.80" y="23.26" font-size="6.3" text-anchor="end" fill="#333" textLength="6.10" lengthAdjust="spacingAndGlyphs">21</text>
<text x="350.80" y="13.60" font-size="6.3" text-anchor="end" fill="#333" textLength="6.10" lengthAdjust="spacingAndGlyphs">22</text>
<path d="M353.00 214.30H356.3M353.00 204.64H356.3M353.00 194.98H356.3M353.00 185.31H356.3M353.00 175.65H356.3M353.00 165.99H356.3M353.00 156.33H356.3M353.00 146.67H356.3M353.00 137.00H356.3M353.00 127.34H356.3M353.00 117.68H356.3M353.00 108.02H356.3M353.00 98.36H356.3M353.00 88.69H356.3M353.00 79.03H356.3M353.00 69.37H356.3M353.00 59.71H356.3M353.00 50.05H356.3M353.00 40.38H356.3M353.00 30.72H356.3M353.00 21.06H356.3M353.00 11.40H356.3" stroke="#666" stroke-width="0.7" fill="none"/>
<path d="M356.3 9.3V220.1" stroke="#666" stroke-width="0.8" fill="none"/>
<text x="363.60" y="230.90" font-size="6.3" text-anchor="middle" fill="#333" textLength="3.10" lengthAdjust="spacingAndGlyphs">1</text>
<text x="382.90" y="230.90" font-size="6.3" text-anchor="middle" fill="#333" textLength="3.10" lengthAdjust="spacingAndGlyphs">2</text>
<text x="402.70" y="230.90" font-size="6.3" text-anchor="middle" fill="#333" textLength="3.10" lengthAdjust="spacingAndGlyphs">3</text>
<text x="422.20" y="230.90" font-size="6.3" text-anchor="middle" fill="#333" textLength="3.10" lengthAdjust="spacingAndGlyphs">4</text>
<text x="441.50" y="230.90" font-size="6.3" text-anchor="middle" fill="#333" textLength="3.10" lengthAdjust="spacingAndGlyphs">5</text>
<text x="460.30" y="230.90" font-size="6.3" text-anchor="middle" fill="#333" textLength="3.10" lengthAdjust="spacingAndGlyphs">6</text>
<text x="477.80" y="230.90" font-size="6.3" text-anchor="middle" fill="#333" textLength="3.10" lengthAdjust="spacingAndGlyphs">7</text>
<text x="495.00" y="230.90" font-size="6.3" text-anchor="middle" fill="#333" textLength="3.10" lengthAdjust="spacingAndGlyphs">8</text>
<text x="511.70" y="230.90" font-size="6.3" text-anchor="middle" fill="#333" textLength="3.10" lengthAdjust="spacingAndGlyphs">9</text>
<text x="527.00" y="230.90" font-size="6.3" text-anchor="middle" fill="#333" textLength="6.10" lengthAdjust="spacingAndGlyphs">10</text>
<text x="542.80" y="230.90" font-size="6.3" text-anchor="middle" fill="#333" textLength="6.10" lengthAdjust="spacingAndGlyphs">11</text>
<text x="558.70" y="230.90" font-size="6.3" text-anchor="middle" fill="#333" textLength="6.10" lengthAdjust="spacingAndGlyphs">12</text>
<text x="574.30" y="230.90" font-size="6.3" text-anchor="middle" fill="#333" textLength="6.10" lengthAdjust="spacingAndGlyphs">13</text>
<text x="587.90" y="230.90" font-size="6.3" text-anchor="middle" fill="#333" textLength="6.10" lengthAdjust="spacingAndGlyphs">14</text>
<text x="600.90" y="230.90" font-size="6.3" text-anchor="middle" fill="#333" textLength="6.10" lengthAdjust="spacingAndGlyphs">15</text>
<text x="613.30" y="230.90" font-size="6.3" text-anchor="middle" fill="#333" textLength="6.10" lengthAdjust="spacingAndGlyphs">16</text>
<text x="624.10" y="230.90" font-size="6.3" text-anchor="middle" fill="#333" textLength="6.10" lengthAdjust="spacingAndGlyphs">17</text>
<text x="634.00" y="230.90" font-size="6.3" text-anchor="middle" fill="#333" textLength="6.10" lengthAdjust="spacingAndGlyphs">18</text>
<text x="643.90" y="230.90" font-size="6.3" text-anchor="middle" fill="#333" textLength="6.10" lengthAdjust="spacingAndGlyphs">19</text>
<text x="651.90" y="230.90" font-size="6.3" text-anchor="middle" fill="#333" textLength="6.10" lengthAdjust="spacingAndGlyphs">20</text>
<text x="659.80" y="230.90" font-size="6.3" text-anchor="middle" fill="#333" textLength="6.10" lengthAdjust="spacingAndGlyphs">21</text>
<text x="667.20" y="230.90" font-size="6.3" text-anchor="middle" fill="#333" textLength="6.10" lengthAdjust="spacingAndGlyphs">22</text>
<path d="M363.60 220.1 V223.40M382.90 220.1 V223.40M402.70 220.1 V223.40M422.20 220.1 V223.40M441.50 220.1 V223.40M460.30 220.1 V223.40M477.80 220.1 V223.40M495.00 220.1 V223.40M511.70 220.1 V223.40M527.00 220.1 V223.40M542.80 220.1 V223.40M558.70 220.1 V223.40M574.30 220.1 V223.40M587.90 220.1 V223.40M600.90 220.1 V223.40M613.30 220.1 V223.40M624.10 220.1 V223.40M634.00 220.1 V223.40M643.90 220.1 V223.40M651.90 220.1 V223.40M659.80 220.1 V223.40M667.20 220.1 V223.40" stroke="#777" stroke-width="0.7" fill="none"/>
<path d="M356.3 220.1H669.6" stroke="#c8c8c8" stroke-width="1.3" fill="none"/>
<clipPath id="cb"><rect x="356.6" y="0" width="330" height="219.4"/></clipPath>
<path clip-path="url(#cb)" d="M357.19 218.80h0.02M358.49 217.95h0.02M359.79 217.10h0.02M361.09 216.25h0.02M362.39 215.39h0.02M363.69 214.54h0.02M364.99 213.69h0.02M366.29 212.84h0.02M367.59 211.99h0.02M368.89 211.14h0.02M370.19 210.29h0.02M371.49 209.43h0.02M372.79 208.58h0.02M374.09 207.73h0.02M375.39 206.88h0.02M376.69 206.03h0.02M377.99 205.18h0.02M380.59 203.48h0.02M381.89 202.62h0.02M383.19 201.77h0.02M384.49 200.92h0.02M385.79 200.07h0.02M387.09 199.22h0.02M388.39 198.37h0.02M389.69 197.52h0.02M390.99 196.66h0.02M392.29 195.81h0.02M393.59 194.96h0.02M394.89 194.11h0.02M396.19 193.26h0.02M397.49 192.41h0.02M398.79 191.56h0.02M400.09 190.70h0.02M401.39 189.85h0.02M402.69 189.00h0.02M405.29 187.30h0.02M406.59 186.45h0.02M407.89 185.60h0.02M409.19 184.74h0.02M410.49 183.89h0.02M411.79 183.04h0.02M413.09 182.19h0.02M414.39 181.34h0.02M415.69 180.49h0.02M416.99 179.64h0.02M418.29 178.79h0.02M419.59 177.93h0.02M420.89 177.08h0.02M422.19 176.23h0.02M423.49 175.38h0.02M429.99 171.12h0.02M431.29 170.27h0.02M432.59 169.42h0.02M433.89 168.57h0.02M435.19 167.72h0.02M436.49 166.87h0.02M437.79 166.01h0.02M439.09 165.16h0.02M440.39 164.31h0.02M441.69 163.46h0.02M442.99 162.61h0.02M444.29 161.76h0.02M445.59 160.91h0.02M446.89 160.05h0.02M448.19 159.20h0.02M449.49 158.35h0.02M450.79 157.50h0.02M452.09 156.65h0.02M453.39 155.80h0.02M454.69 154.95h0.02M455.99 154.10h0.02M457.29 153.24h0.02M458.59 152.39h0.02M459.89 151.54h0.02M462.49 149.84h0.02M463.79 148.99h0.02M465.09 148.14h0.02M466.39 147.28h0.02M467.69 146.43h0.02M468.99 145.58h0.02M470.29 144.73h0.02M471.59 143.88h0.02M472.89 143.03h0.02M474.19 142.18h0.02M475.49 141.32h0.02M476.79 140.47h0.02M478.09 139.62h0.02M479.39 138.77h0.02M481.99 137.07h0.02M483.29 136.22h0.02M484.59 135.36h0.02M485.89 134.51h0.02M487.19 133.66h0.02M488.49 132.81h0.02M489.79 131.96h0.02M491.09 131.11h0.02M492.39 130.26h0.02M493.69 129.41h0.02M494.99 128.55h0.02M496.29 127.70h0.02M497.59 126.85h0.02M498.89 126.00h0.02M500.19 125.15h0.02M501.49 124.30h0.02M502.79 123.45h0.02M504.09 122.59h0.02M505.39 121.74h0.02M506.69 120.89h0.02M507.99 120.04h0.02M517.09 114.08h0.02M518.39 113.23h0.02M519.69 112.38h0.02M520.99 111.53h0.02M522.29 110.67h0.02M523.59 109.82h0.02M524.89 108.97h0.02M526.19 108.12h0.02M527.49 107.27h0.02M528.79 106.42h0.02M530.09 105.57h0.02M531.39 104.72h0.02M532.69 103.86h0.02M533.99 103.01h0.02M535.29 102.16h0.02M536.59 101.31h0.02M537.89 100.46h0.02M539.19 99.61h0.02M540.49 98.76h0.02M541.79 97.90h0.02M543.09 97.05h0.02M544.39 96.20h0.02M545.69 95.35h0.02M546.99 94.50h0.02M548.29 93.65h0.02M549.59 92.80h0.02M550.89 91.94h0.02M552.19 91.09h0.02M553.49 90.24h0.02M554.79 89.39h0.02M557.39 87.69h0.02M558.69 86.84h0.02M559.99 85.98h0.02M561.29 85.13h0.02M562.59 84.28h0.02M565.19 82.58h0.02M566.49 81.73h0.02M567.79 80.88h0.02M569.09 80.03h0.02M570.39 79.17h0.02M571.69 78.32h0.02M572.99 77.47h0.02M574.29 76.62h0.02M575.59 75.77h0.02M576.89 74.92h0.02M578.19 74.07h0.02M579.49 73.21h0.02M580.79 72.36h0.02M582.09 71.51h0.02M583.39 70.66h0.02M584.69 69.81h0.02M585.99 68.96h0.02M587.29 68.11h0.02M588.59 67.25h0.02M589.89 66.40h0.02M591.19 65.55h0.02M592.49 64.70h0.02M593.79 63.85h0.02M595.09 63.00h0.02M596.39 62.15h0.02M604.19 57.04h0.02M605.49 56.19h0.02M606.79 55.34h0.02M608.09 54.48h0.02M609.39 53.63h0.02M610.69 52.78h0.02M611.99 51.93h0.02M613.29 51.08h0.02M614.59 50.23h0.02M615.89 49.38h0.02M617.19 48.52h0.02M618.49 47.67h0.02M619.79 46.82h0.02M621.09 45.97h0.02M622.39 45.12h0.02M623.69 44.27h0.02M624.99 43.42h0.02M626.29 42.56h0.02M627.59 41.71h0.02M628.89 40.86h0.02M630.19 40.01h0.02M631.49 39.16h0.02M632.79 38.31h0.02M635.39 36.60h0.02M636.69 35.75h0.02M637.99 34.90h0.02M639.29 34.05h0.02M640.59 33.20h0.02M641.89 32.35h0.02M643.19 31.50h0.02M644.49 30.65h0.02M645.79 29.79h0.02M647.09 28.94h0.02M648.39 28.09h0.02M649.69 27.24h0.02M650.99 26.39h0.02M652.29 25.54h0.02M653.59 24.69h0.02M654.89 23.83h0.02M656.19 22.98h0.02M657.49 22.13h0.02M658.79 21.28h0.02M660.09 20.43h0.02M661.39 19.58h0.02M662.69 18.73h0.02M663.99 17.87h0.02M665.29 17.02h0.02M666.59 16.17h0.02M667.89 15.32h0.02" stroke="#ff0000" stroke-width="4.2" stroke-linecap="round" fill="none"/>
<path clip-path="url(#cb)" d="M369.49 24.25h0.02M388.49 22.25h0.02M405.24 40.50h0.02M404.99 53.25h0.02M419.74 50.75h0.02M391.24 65.25h0.02M431.99 86.50h0.02M454.49 88.25h0.02M411.49 104.00h0.02M454.49 27.75h0.02M467.99 29.50h0.02M429.19 127.20h0.02M519.49 38.25h0.02M516.99 42.00h0.02M519.74 47.50h0.02M536.99 53.00h0.02M616.99 29.25h0.02M628.99 15.75h0.02M646.99 28.25h0.02M641.49 41.25h0.02M641.49 47.50h0.02M641.49 53.00h0.02M641.49 85.00h0.02M645.99 101.00h0.02M647.99 105.50h0.02M519.49 101.25h0.02M525.74 108.00h0.02M544.99 92.50h0.02M519.49 126.40h0.02M594.99 122.25h0.02M602.24 122.75h0.02M653.24 47.00h0.02M519.49 167.50h0.02M549.74 167.25h0.02M519.49 184.75h0.02M519.49 195.50h0.02M515.99 206.00h0.02M519.49 213.00h0.02M519.49 219.25h0.02M558.24 218.00h0.02M585.49 192.00h0.02M599.99 156.25h0.02M599.99 177.75h0.02M641.49 148.25h0.02M647.74 167.50h0.02M647.24 195.50h0.02M641.49 206.25h0.02M365.09 215.40h0.02M371.99 199.50h0.02M383.49 189.10h0.02M394.99 178.00h0.02M398.99 185.50h0.02M456.99 215.75h0.02M472.74 199.50h0.02" stroke="#0000ff" stroke-width="4.4" stroke-linecap="round" fill="none"/>
<text x="513.00" y="241.80" font-size="8.2" text-anchor="middle" textLength="56.20" lengthAdjust="spacingAndGlyphs">pQTL position</text>
<text x="338.60" y="115.00" font-size="8.2" text-anchor="middle" textLength="62.00" lengthAdjust="spacingAndGlyphs" transform="rotate(-90 338.60 115.00)">Protein position</text>
<text x="468.00" y="258.60" font-size="7.0" textLength="26.00" lengthAdjust="spacingAndGlyphs">Linkage</text>
<circle cx="501.5" cy="256.3" r="2.5" fill="#ff0000"/>
<text x="507.80" y="258.60" font-size="7.0" font-style="italic" textLength="9.50" lengthAdjust="spacingAndGlyphs">cis</text>
<circle cx="528.2" cy="256.3" r="2.5" fill="#0000ff"/>
<text x="535.20" y="258.60" font-size="7.0" font-style="italic" textLength="16.30" lengthAdjust="spacingAndGlyphs">trans</text>
<rect x="3.0" y="334.0" width="299.60" height="103.80" rx="17" ry="17" fill="#3b7b23" stroke="#12323f" stroke-width="0.95"/>
<rect x="22.2" y="353.5" width="254.20" height="84.30" rx="12.5" ry="12.5" fill="#8dd773" stroke="#12323f" stroke-width="0.95"/>
<rect x="40.7" y="377.5" width="214.90" height="60.30" rx="8" ry="8" fill="#b4e4a1" stroke="#12323f" stroke-width="0.95"/>
<rect x="61.0" y="392.5" width="172.80" height="45.30" rx="6" ry="6" fill="#d8f2cc" stroke="#12323f" stroke-width="0.95"/>
<rect x="82.6" y="406.3" width="138.30" height="31.50" rx="4" ry="4" fill="#daf2ce" stroke="#12323f" stroke-width="0.95"/>
<path d="M119 319V438" stroke="#ee1111" stroke-width="1.7" stroke-dasharray="1.3 0.9" fill="none"/>
<path d="M200.6 319V438" stroke="#1a78c8" stroke-width="1.7" stroke-dasharray="1.3 0.9" fill="none"/>
<text x="64.40" y="330.80" font-size="8.0" text-anchor="middle" font-style="italic" textLength="11.30" lengthAdjust="spacingAndGlyphs">cis</text>
<text x="125.00" y="330.80" font-size="8.0" textLength="67.50" lengthAdjust="spacingAndGlyphs">Funtional impact</text>
<text x="218.30" y="330.80" font-size="8.0" font-style="italic" textLength="19.70" lengthAdjust="spacingAndGlyphs">trans</text>
<text x="158.75" y="349.65" font-size="8.2" text-anchor="middle" textLength="36.00" lengthAdjust="spacingAndGlyphs">Missense</text>
<text x="158.62" y="374.90" font-size="8.2" text-anchor="middle" textLength="40.75" lengthAdjust="spacingAndGlyphs">Intergenic</text>
<text x="158.75" y="389.90" font-size="8.2" text-anchor="middle" textLength="27.50" lengthAdjust="spacingAndGlyphs">Others</text>
<text x="158.50" y="403.65" font-size="8.2" text-anchor="middle" textLength="24.00" lengthAdjust="spacingAndGlyphs">Intron</text>
<text x="158.38" y="425.40" font-size="8.2" text-anchor="middle" textLength="51.75" lengthAdjust="spacingAndGlyphs">Independent</text>
<text x="12.50" y="425.40" font-size="8.2" text-anchor="middle" textLength="11.00" lengthAdjust="spacingAndGlyphs">50</text>
<text x="30.00" y="425.40" font-size="8.2" text-anchor="middle" textLength="10.00" lengthAdjust="spacingAndGlyphs">49</text>
<text x="50.00" y="425.40" font-size="8.2" text-anchor="middle" textLength="14.00" lengthAdjust="spacingAndGlyphs">148</text>
<text x="72.25" y="425.40" font-size="8.2" text-anchor="middle" textLength="10.50" lengthAdjust="spacingAndGlyphs">99</text>
<text x="99.38" y="425.40" font-size="8.2" text-anchor="middle" textLength="15.25" lengthAdjust="spacingAndGlyphs">346</text>
<text x="208.12" y="425.40" font-size="8.2" text-anchor="middle" textLength="10.25" lengthAdjust="spacingAndGlyphs">53</text>
<text x="226.88" y="425.40" font-size="8.2" text-anchor="middle" textLength="8.75" lengthAdjust="spacingAndGlyphs">16</text>
<text x="243.75" y="425.40" font-size="8.2" text-anchor="middle" textLength="10.00" lengthAdjust="spacingAndGlyphs">24</text>
<text x="264.12" y="425.40" font-size="8.2" text-anchor="middle" textLength="6.75" lengthAdjust="spacingAndGlyphs">11</text>
<text x="287.25" y="425.40" font-size="8.2" text-anchor="middle" textLength="4.50" lengthAdjust="spacingAndGlyphs">2</text>
<rect x="403.3" y="272.10" width="1.42" height="11.8" fill="#35a535"/>
<text x="383.10" y="280.70" font-size="7.6" text-anchor="end" fill="#333" textLength="33.30" lengthAdjust="spacingAndGlyphs">0.81–0.85</text>
<text x="407.50" y="280.35" font-size="7.6" textLength="44.35" lengthAdjust="spacingAndGlyphs">1 SERPINA12</text>
<rect x="403.3" y="285.35" width="2.85" height="11.8" fill="#3d9f34"/>
<text x="383.10" y="293.95" font-size="7.6" text-anchor="end" fill="#333" textLength="33.30" lengthAdjust="spacingAndGlyphs">0.69–0.73</text>
<text x="407.30" y="293.60" font-size="7.6" textLength="62.63" lengthAdjust="spacingAndGlyphs">2 CEACAM1, PSCA</text>
<rect x="403.3" y="298.60" width="1.42" height="11.8" fill="#5aa43b"/>
<text x="383.10" y="307.20" font-size="7.6" text-anchor="end" fill="#333" textLength="33.30" lengthAdjust="spacingAndGlyphs">0.61–0.65</text>
<text x="407.50" y="306.85" font-size="7.6" textLength="35.79" lengthAdjust="spacingAndGlyphs">1 CD300LF</text>
<rect x="403.3" y="311.85" width="2.85" height="11.8" fill="#7a9a2a"/>
<text x="383.10" y="320.45" font-size="7.6" text-anchor="end" fill="#333" textLength="33.30" lengthAdjust="spacingAndGlyphs">0.53–0.57</text>
<text x="407.50" y="320.10" font-size="7.6" textLength="46.68" lengthAdjust="spacingAndGlyphs">2 CCL15, CPQ</text>
<rect x="403.3" y="325.10" width="5.70" height="11.8" fill="#9b8f25"/>
<text x="383.10" y="333.70" font-size="7.6" text-anchor="end" fill="#333" textLength="33.30" lengthAdjust="spacingAndGlyphs">0.49–0.53</text>
<text x="411.25" y="333.35" font-size="7.6" textLength="99.98" lengthAdjust="spacingAndGlyphs">4 CCL16, CCL3, IFNGR2, KLK1</text>
<rect x="403.3" y="338.35" width="4.27" height="11.8" fill="#b68a1e"/>
<text x="383.10" y="346.95" font-size="7.6" text-anchor="end" fill="#333" textLength="33.30" lengthAdjust="spacingAndGlyphs">0.45–0.49</text>
<text x="411.75" y="346.60" font-size="7.6" textLength="71.06" lengthAdjust="spacingAndGlyphs">3 PVALB, FOLR3, ZP3</text>
<rect x="403.3" y="351.60" width="7.12" height="11.8" fill="#d4821c"/>
<text x="383.10" y="360.20" font-size="7.6" text-anchor="end" fill="#333" textLength="33.30" lengthAdjust="spacingAndGlyphs">0.41–0.45</text>
<text x="415.50" y="359.85" font-size="7.6" textLength="126.31" lengthAdjust="spacingAndGlyphs">5 LBP, SIGLEC9, LCP1, MBL2, GSTT2B</text>
<rect x="403.3" y="364.85" width="5.70" height="11.8" fill="#f07f1a"/>
<text x="383.10" y="373.45" font-size="7.6" text-anchor="end" fill="#333" textLength="33.30" lengthAdjust="spacingAndGlyphs">0.36–0.41</text>
<text x="415.00" y="373.10" font-size="7.6" textLength="106.47" lengthAdjust="spacingAndGlyphs">4 SIRPA, LILRB5, VTCN1, DKKL1</text>
<rect x="403.3" y="378.10" width="8.54" height="11.8" fill="#f0801f"/>
<text x="383.10" y="386.70" font-size="7.6" text-anchor="end" fill="#333" textLength="33.30" lengthAdjust="spacingAndGlyphs">0.30–0.36</text>
<text x="418.00" y="386.35" font-size="7.6" textLength="143.68" lengthAdjust="spacingAndGlyphs">6 FUT8, NID2, LECT2, FBLN2, PINLYP, LEG1</text>
<rect x="403.3" y="391.35" width="8.54" height="11.8" fill="#d9803a"/>
<text x="383.10" y="399.95" font-size="7.6" text-anchor="end" fill="#333" textLength="33.30" lengthAdjust="spacingAndGlyphs">0.28–0.32</text>
<text x="418.00" y="399.60" font-size="7.6" textLength="151.71" lengthAdjust="spacingAndGlyphs">6 PDGFRB, ASAH2, LILRA2, FCGR2B, F3, DBH</text>
<rect x="403.3" y="404.60" width="19.94" height="11.8" fill="#b97b45"/>
<text x="383.10" y="413.20" font-size="7.6" text-anchor="end" fill="#333" textLength="33.30" lengthAdjust="spacingAndGlyphs">0.24–0.28</text>
<text x="428.75" y="412.85" font-size="7.6" textLength="257.90" lengthAdjust="spacingAndGlyphs">14 CDHR5, SFTPD, MSMB, AOC3, ADGRB3, FOLR2, RARRES1, CLEC6A, PDZD</text>
<rect x="403.3" y="417.85" width="27.06" height="11.8" fill="#917755"/>
<text x="383.10" y="426.45" font-size="7.6" text-anchor="end" fill="#333" textLength="33.30" lengthAdjust="spacingAndGlyphs">0.20–0.24</text>
<text x="431.30" y="426.10" font-size="7.6" textLength="7.79" lengthAdjust="spacingAndGlyphs">19</text>
<rect x="403.3" y="431.10" width="39.87" height="11.8" fill="#737566"/>
<text x="383.10" y="439.70" font-size="7.6" text-anchor="end" fill="#333" textLength="33.30" lengthAdjust="spacingAndGlyphs">0.16–0.20</text>
<text x="445.50" y="439.35" font-size="7.6" textLength="7.79" lengthAdjust="spacingAndGlyphs">28</text>
<rect x="403.3" y="444.35" width="64.08" height="11.8" fill="#597a87"/>
<text x="383.10" y="452.95" font-size="7.6" text-anchor="end" fill="#333" textLength="33.30" lengthAdjust="spacingAndGlyphs">0.12–0.16</text>
<text x="469.50" y="452.60" font-size="7.6" textLength="7.79" lengthAdjust="spacingAndGlyphs">45</text>
<rect x="403.3" y="457.60" width="138.13" height="11.8" fill="#3f7aa0"/>
<text x="383.10" y="466.20" font-size="7.6" text-anchor="end" fill="#333" textLength="33.30" lengthAdjust="spacingAndGlyphs">0.08–0.12</text>
<text x="544.00" y="465.85" font-size="7.6" textLength="7.79" lengthAdjust="spacingAndGlyphs">97</text>
<rect x="403.3" y="470.85" width="230.69" height="11.8" fill="#2478b8"/>
<text x="383.10" y="479.45" font-size="7.6" text-anchor="end" fill="#333" textLength="33.30" lengthAdjust="spacingAndGlyphs">0.04–0.08</text>
<text x="635.00" y="479.10" font-size="7.6" textLength="11.68" lengthAdjust="spacingAndGlyphs">162</text>
<path d="M386.60 278.00H389.8M386.60 291.25H389.8M386.60 304.50H389.8M386.60 317.75H389.8M386.60 331.00H389.8M386.60 344.25H389.8M386.60 357.50H389.8M386.60 370.75H389.8M386.60 384.00H389.8M386.60 397.25H389.8M386.60 410.50H389.8M386.60 423.75H389.8M386.60 437.00H389.8M386.60 450.25H389.8M386.60 463.50H389.8M386.60 476.75H389.8" stroke="#999" stroke-width="0.7" fill="none"/>
<path d="M389.8 271V484.3H674.6" stroke="#c8c8c8" stroke-width="1.4" fill="none"/>
<text x="403.30" y="497.00" font-size="7.2" text-anchor="middle" fill="#333">0</text>
<text x="474.50" y="497.00" font-size="7.2" text-anchor="middle" fill="#333">50</text>
<text x="545.70" y="497.00" font-size="7.2" text-anchor="middle" fill="#333">100</text>
<text x="616.90" y="497.00" font-size="7.2" text-anchor="middle" fill="#333">150</text>
<path d="M403.30 484.3 V487.50M474.50 484.3 V487.50M545.70 484.3 V487.50M616.90 484.3 V487.50" stroke="#999" stroke-width="0.7" fill="none"/>
<text x="532.20" y="510.20" font-size="8.2" text-anchor="middle" textLength="78.00" lengthAdjust="spacingAndGlyphs">Number of proteins</text>
<text x="340.00" y="377.00" font-size="8.2" text-anchor="middle" textLength="146.50" lengthAdjust="spacingAndGlyphs" transform="rotate(-90 340.00 377.00)">Proportion of variance explained bin</text>
</svg>
</body></html>
